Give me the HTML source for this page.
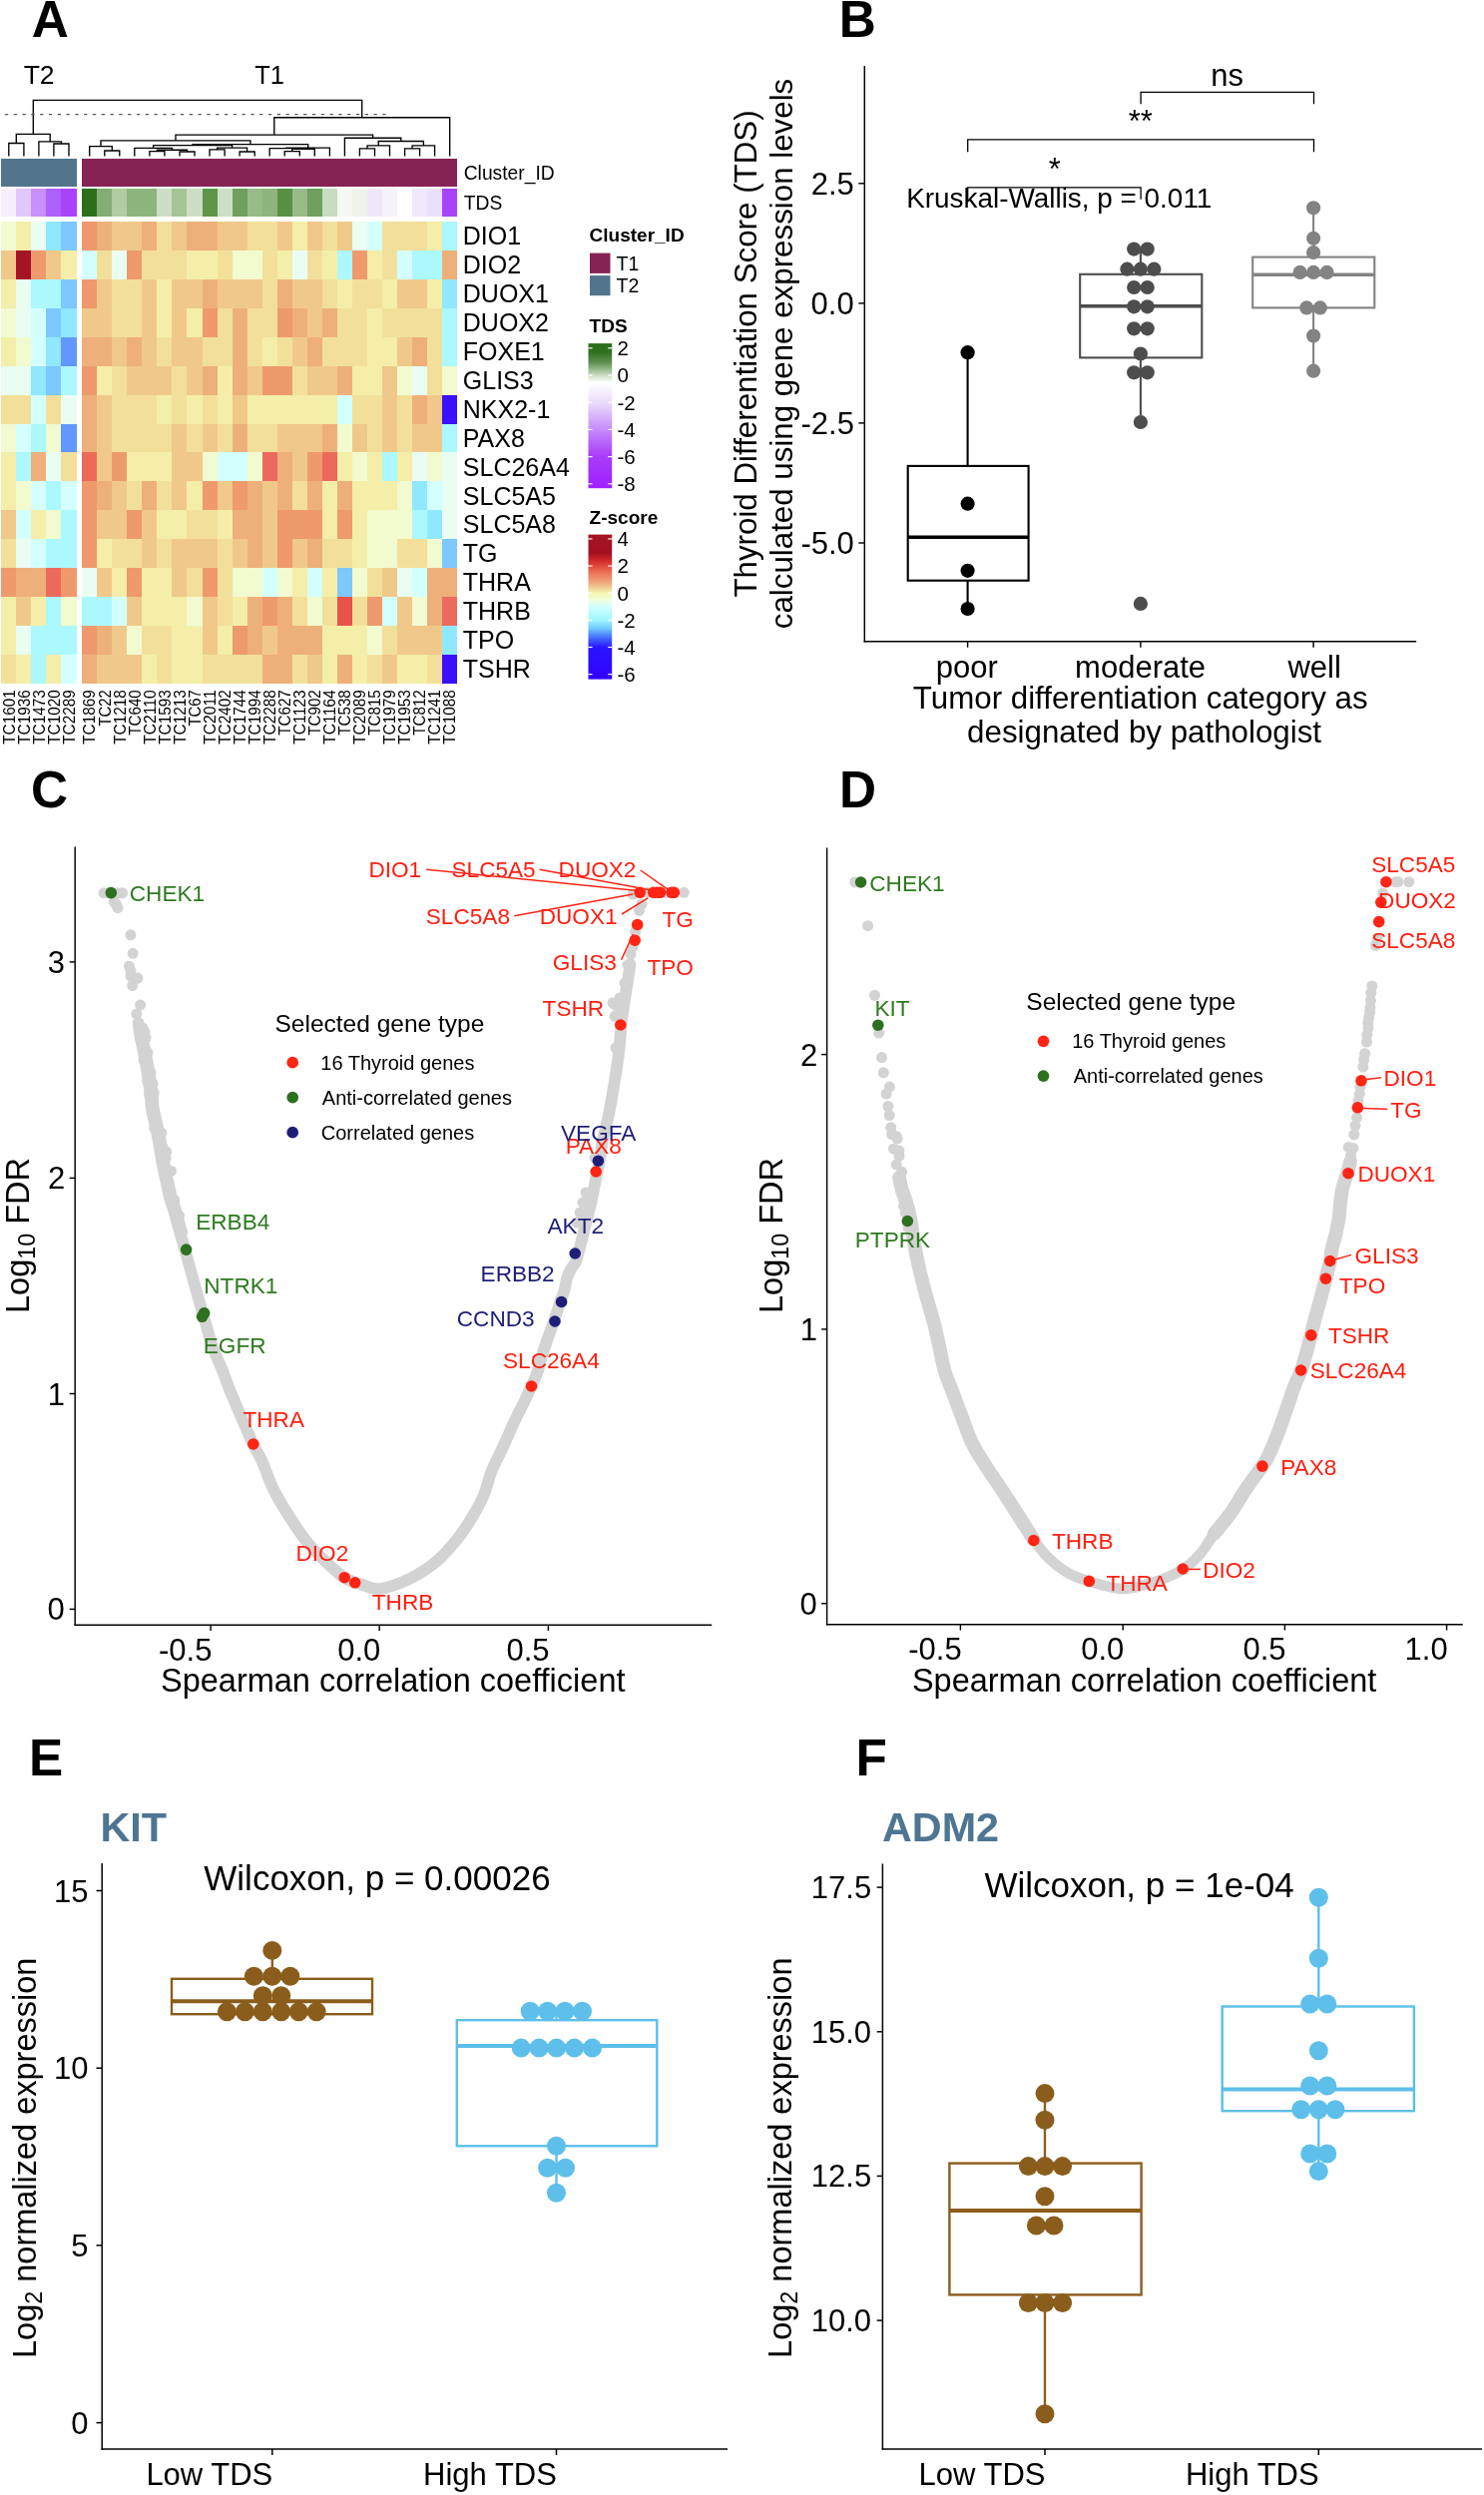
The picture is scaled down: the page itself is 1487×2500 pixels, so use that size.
<!DOCTYPE html>
<html><head><meta charset="utf-8"><style>
html,body{margin:0;padding:0;background:#fff;}
svg{display:block;will-change:transform;}
text{font-family:"Liberation Sans",sans-serif;}
</style></head><body>
<svg width="1487" height="2500" viewBox="0 0 1487 2500">
<rect width="1487" height="2500" fill="#fff"/>
<g id="panelA" shape-rendering="crispEdges">
<rect x="1.30" y="158.90" width="75.20" height="27.80" fill="#52758C"/>
<rect x="82.20" y="158.90" width="376.00" height="27.80" fill="#862254"/>
<rect x="1.30" y="189.00" width="15.34" height="27.60" fill="#F6F0FC"/>
<rect x="16.34" y="189.00" width="15.34" height="27.60" fill="#E0C8FC"/>
<rect x="31.38" y="189.00" width="15.34" height="27.60" fill="#C890FC"/>
<rect x="46.42" y="189.00" width="15.34" height="27.60" fill="#AE60FC"/>
<rect x="61.46" y="189.00" width="15.04" height="27.60" fill="#A843FA"/>
<rect x="82.20" y="189.00" width="15.34" height="27.60" fill="#2D6E1A"/>
<rect x="97.24" y="189.00" width="15.34" height="27.60" fill="#84AD74"/>
<rect x="112.28" y="189.00" width="15.34" height="27.60" fill="#B0CCA0"/>
<rect x="127.32" y="189.00" width="15.34" height="27.60" fill="#8EB47E"/>
<rect x="142.36" y="189.00" width="15.34" height="27.60" fill="#8EB47E"/>
<rect x="157.40" y="189.00" width="15.34" height="27.60" fill="#CCDFC6"/>
<rect x="172.44" y="189.00" width="15.34" height="27.60" fill="#A4C496"/>
<rect x="187.48" y="189.00" width="15.34" height="27.60" fill="#CCDFC6"/>
<rect x="202.52" y="189.00" width="15.34" height="27.60" fill="#5F954B"/>
<rect x="217.56" y="189.00" width="15.34" height="27.60" fill="#CCDFC6"/>
<rect x="232.60" y="189.00" width="15.34" height="27.60" fill="#6FA05D"/>
<rect x="247.64" y="189.00" width="15.34" height="27.60" fill="#98BC88"/>
<rect x="262.68" y="189.00" width="15.34" height="27.60" fill="#8EB47E"/>
<rect x="277.72" y="189.00" width="15.34" height="27.60" fill="#5A9045"/>
<rect x="292.76" y="189.00" width="15.34" height="27.60" fill="#98BC88"/>
<rect x="307.80" y="189.00" width="15.34" height="27.60" fill="#6FA05D"/>
<rect x="322.84" y="189.00" width="15.34" height="27.60" fill="#C8DCC0"/>
<rect x="337.88" y="189.00" width="15.34" height="27.60" fill="#F5F8F2"/>
<rect x="352.92" y="189.00" width="15.34" height="27.60" fill="#EEF2EA"/>
<rect x="367.96" y="189.00" width="15.34" height="27.60" fill="#F0E6FC"/>
<rect x="383.00" y="189.00" width="15.34" height="27.60" fill="#F6F2FC"/>
<rect x="398.04" y="189.00" width="15.34" height="27.60" fill="#FFFFFF"/>
<rect x="413.08" y="189.00" width="15.34" height="27.60" fill="#F0E8FC"/>
<rect x="428.12" y="189.00" width="15.34" height="27.60" fill="#EAE0FC"/>
<rect x="443.16" y="189.00" width="15.04" height="27.60" fill="#A843FA"/>
<rect x="1.30" y="222.30" width="15.34" height="29.19" fill="#F2FAD0"/>
<rect x="16.34" y="222.30" width="15.34" height="29.19" fill="#F4EEA8"/>
<rect x="31.38" y="222.30" width="15.34" height="29.19" fill="#EAFDF2"/>
<rect x="46.42" y="222.30" width="15.34" height="29.19" fill="#90E8FF"/>
<rect x="61.46" y="222.30" width="15.04" height="29.19" fill="#7CC8FF"/>
<rect x="82.20" y="222.30" width="15.34" height="29.19" fill="#EE9A6C"/>
<rect x="97.24" y="222.30" width="15.34" height="29.19" fill="#EEB07A"/>
<rect x="112.28" y="222.30" width="15.34" height="29.19" fill="#F0C98A"/>
<rect x="127.32" y="222.30" width="15.34" height="29.19" fill="#F0C98A"/>
<rect x="142.36" y="222.30" width="15.34" height="29.19" fill="#EEB07A"/>
<rect x="157.40" y="222.30" width="15.34" height="29.19" fill="#F2E09A"/>
<rect x="172.44" y="222.30" width="15.34" height="29.19" fill="#F0C98A"/>
<rect x="187.48" y="222.30" width="15.34" height="29.19" fill="#EEB07A"/>
<rect x="202.52" y="222.30" width="15.34" height="29.19" fill="#EEB07A"/>
<rect x="217.56" y="222.30" width="15.34" height="29.19" fill="#F0C98A"/>
<rect x="232.60" y="222.30" width="15.34" height="29.19" fill="#F0C98A"/>
<rect x="247.64" y="222.30" width="15.34" height="29.19" fill="#F2E09A"/>
<rect x="262.68" y="222.30" width="15.34" height="29.19" fill="#F2E09A"/>
<rect x="277.72" y="222.30" width="15.34" height="29.19" fill="#F0C98A"/>
<rect x="292.76" y="222.30" width="15.34" height="29.19" fill="#F4EEA8"/>
<rect x="307.80" y="222.30" width="15.34" height="29.19" fill="#F0C98A"/>
<rect x="322.84" y="222.30" width="15.34" height="29.19" fill="#F2E09A"/>
<rect x="337.88" y="222.30" width="15.34" height="29.19" fill="#F0C98A"/>
<rect x="352.92" y="222.30" width="15.34" height="29.19" fill="#EAFDF2"/>
<rect x="367.96" y="222.30" width="15.34" height="29.19" fill="#D4FFFF"/>
<rect x="383.00" y="222.30" width="15.34" height="29.19" fill="#F2E09A"/>
<rect x="398.04" y="222.30" width="15.34" height="29.19" fill="#F2E09A"/>
<rect x="413.08" y="222.30" width="15.34" height="29.19" fill="#F2E09A"/>
<rect x="428.12" y="222.30" width="15.34" height="29.19" fill="#F4EEA8"/>
<rect x="443.16" y="222.30" width="15.04" height="29.19" fill="#ACF8FF"/>
<rect x="1.30" y="251.19" width="15.34" height="29.19" fill="#F0C98A"/>
<rect x="16.34" y="251.19" width="15.34" height="29.19" fill="#A51424"/>
<rect x="31.38" y="251.19" width="15.34" height="29.19" fill="#EE9A6C"/>
<rect x="46.42" y="251.19" width="15.34" height="29.19" fill="#F0C98A"/>
<rect x="61.46" y="251.19" width="15.04" height="29.19" fill="#F4EEA8"/>
<rect x="82.20" y="251.19" width="15.34" height="29.19" fill="#D4FFFF"/>
<rect x="97.24" y="251.19" width="15.34" height="29.19" fill="#F2E09A"/>
<rect x="112.28" y="251.19" width="15.34" height="29.19" fill="#EAFDF2"/>
<rect x="127.32" y="251.19" width="15.34" height="29.19" fill="#EE9A6C"/>
<rect x="142.36" y="251.19" width="15.34" height="29.19" fill="#F2E09A"/>
<rect x="157.40" y="251.19" width="15.34" height="29.19" fill="#F2E09A"/>
<rect x="172.44" y="251.19" width="15.34" height="29.19" fill="#F2E09A"/>
<rect x="187.48" y="251.19" width="15.34" height="29.19" fill="#F4EEA8"/>
<rect x="202.52" y="251.19" width="15.34" height="29.19" fill="#F4EEA8"/>
<rect x="217.56" y="251.19" width="15.34" height="29.19" fill="#F2E09A"/>
<rect x="232.60" y="251.19" width="15.34" height="29.19" fill="#F2FAD0"/>
<rect x="247.64" y="251.19" width="15.34" height="29.19" fill="#F2FAD0"/>
<rect x="262.68" y="251.19" width="15.34" height="29.19" fill="#F2E09A"/>
<rect x="277.72" y="251.19" width="15.34" height="29.19" fill="#F4EEA8"/>
<rect x="292.76" y="251.19" width="15.34" height="29.19" fill="#EAFDF2"/>
<rect x="307.80" y="251.19" width="15.34" height="29.19" fill="#F2E09A"/>
<rect x="322.84" y="251.19" width="15.34" height="29.19" fill="#F4EEA8"/>
<rect x="337.88" y="251.19" width="15.34" height="29.19" fill="#ACF8FF"/>
<rect x="352.92" y="251.19" width="15.34" height="29.19" fill="#EE9A6C"/>
<rect x="367.96" y="251.19" width="15.34" height="29.19" fill="#F4EEA8"/>
<rect x="383.00" y="251.19" width="15.34" height="29.19" fill="#F2E09A"/>
<rect x="398.04" y="251.19" width="15.34" height="29.19" fill="#D4FFFF"/>
<rect x="413.08" y="251.19" width="15.34" height="29.19" fill="#ACF8FF"/>
<rect x="428.12" y="251.19" width="15.34" height="29.19" fill="#ACF8FF"/>
<rect x="443.16" y="251.19" width="15.04" height="29.19" fill="#EEB07A"/>
<rect x="1.30" y="280.08" width="15.34" height="29.19" fill="#F4EEA8"/>
<rect x="16.34" y="280.08" width="15.34" height="29.19" fill="#EAFDF2"/>
<rect x="31.38" y="280.08" width="15.34" height="29.19" fill="#ACF8FF"/>
<rect x="46.42" y="280.08" width="15.34" height="29.19" fill="#ACF8FF"/>
<rect x="61.46" y="280.08" width="15.04" height="29.19" fill="#7CC8FF"/>
<rect x="82.20" y="280.08" width="15.34" height="29.19" fill="#EE9A6C"/>
<rect x="97.24" y="280.08" width="15.34" height="29.19" fill="#F0C98A"/>
<rect x="112.28" y="280.08" width="15.34" height="29.19" fill="#F2E09A"/>
<rect x="127.32" y="280.08" width="15.34" height="29.19" fill="#F2E09A"/>
<rect x="142.36" y="280.08" width="15.34" height="29.19" fill="#F0C98A"/>
<rect x="157.40" y="280.08" width="15.34" height="29.19" fill="#F4EEA8"/>
<rect x="172.44" y="280.08" width="15.34" height="29.19" fill="#F0C98A"/>
<rect x="187.48" y="280.08" width="15.34" height="29.19" fill="#F0C98A"/>
<rect x="202.52" y="280.08" width="15.34" height="29.19" fill="#EEB07A"/>
<rect x="217.56" y="280.08" width="15.34" height="29.19" fill="#F0C98A"/>
<rect x="232.60" y="280.08" width="15.34" height="29.19" fill="#F0C98A"/>
<rect x="247.64" y="280.08" width="15.34" height="29.19" fill="#F0C98A"/>
<rect x="262.68" y="280.08" width="15.34" height="29.19" fill="#F2E09A"/>
<rect x="277.72" y="280.08" width="15.34" height="29.19" fill="#EEB07A"/>
<rect x="292.76" y="280.08" width="15.34" height="29.19" fill="#F0C98A"/>
<rect x="307.80" y="280.08" width="15.34" height="29.19" fill="#F0C98A"/>
<rect x="322.84" y="280.08" width="15.34" height="29.19" fill="#F2E09A"/>
<rect x="337.88" y="280.08" width="15.34" height="29.19" fill="#F4EEA8"/>
<rect x="352.92" y="280.08" width="15.34" height="29.19" fill="#F2E09A"/>
<rect x="367.96" y="280.08" width="15.34" height="29.19" fill="#F2E09A"/>
<rect x="383.00" y="280.08" width="15.34" height="29.19" fill="#F4EEA8"/>
<rect x="398.04" y="280.08" width="15.34" height="29.19" fill="#F0C98A"/>
<rect x="413.08" y="280.08" width="15.34" height="29.19" fill="#F0C98A"/>
<rect x="428.12" y="280.08" width="15.34" height="29.19" fill="#F4EEA8"/>
<rect x="443.16" y="280.08" width="15.04" height="29.19" fill="#90E8FF"/>
<rect x="1.30" y="308.97" width="15.34" height="29.19" fill="#F2FAD0"/>
<rect x="16.34" y="308.97" width="15.34" height="29.19" fill="#EAFDF2"/>
<rect x="31.38" y="308.97" width="15.34" height="29.19" fill="#D4FFFF"/>
<rect x="46.42" y="308.97" width="15.34" height="29.19" fill="#7CC8FF"/>
<rect x="61.46" y="308.97" width="15.04" height="29.19" fill="#90E8FF"/>
<rect x="82.20" y="308.97" width="15.34" height="29.19" fill="#F0C98A"/>
<rect x="97.24" y="308.97" width="15.34" height="29.19" fill="#F0C98A"/>
<rect x="112.28" y="308.97" width="15.34" height="29.19" fill="#F2E09A"/>
<rect x="127.32" y="308.97" width="15.34" height="29.19" fill="#F2E09A"/>
<rect x="142.36" y="308.97" width="15.34" height="29.19" fill="#F0C98A"/>
<rect x="157.40" y="308.97" width="15.34" height="29.19" fill="#F4EEA8"/>
<rect x="172.44" y="308.97" width="15.34" height="29.19" fill="#F0C98A"/>
<rect x="187.48" y="308.97" width="15.34" height="29.19" fill="#F4EEA8"/>
<rect x="202.52" y="308.97" width="15.34" height="29.19" fill="#EE9A6C"/>
<rect x="217.56" y="308.97" width="15.34" height="29.19" fill="#F2E09A"/>
<rect x="232.60" y="308.97" width="15.34" height="29.19" fill="#EEB07A"/>
<rect x="247.64" y="308.97" width="15.34" height="29.19" fill="#F2E09A"/>
<rect x="262.68" y="308.97" width="15.34" height="29.19" fill="#F2E09A"/>
<rect x="277.72" y="308.97" width="15.34" height="29.19" fill="#EE9A6C"/>
<rect x="292.76" y="308.97" width="15.34" height="29.19" fill="#EEB07A"/>
<rect x="307.80" y="308.97" width="15.34" height="29.19" fill="#F0C98A"/>
<rect x="322.84" y="308.97" width="15.34" height="29.19" fill="#EEB07A"/>
<rect x="337.88" y="308.97" width="15.34" height="29.19" fill="#F2E09A"/>
<rect x="352.92" y="308.97" width="15.34" height="29.19" fill="#F2E09A"/>
<rect x="367.96" y="308.97" width="15.34" height="29.19" fill="#F4EEA8"/>
<rect x="383.00" y="308.97" width="15.34" height="29.19" fill="#F2E09A"/>
<rect x="398.04" y="308.97" width="15.34" height="29.19" fill="#F2E09A"/>
<rect x="413.08" y="308.97" width="15.34" height="29.19" fill="#F2E09A"/>
<rect x="428.12" y="308.97" width="15.34" height="29.19" fill="#F2E09A"/>
<rect x="443.16" y="308.97" width="15.04" height="29.19" fill="#ACF8FF"/>
<rect x="1.30" y="337.86" width="15.34" height="29.19" fill="#F4EEA8"/>
<rect x="16.34" y="337.86" width="15.34" height="29.19" fill="#F2FAD0"/>
<rect x="31.38" y="337.86" width="15.34" height="29.19" fill="#D4FFFF"/>
<rect x="46.42" y="337.86" width="15.34" height="29.19" fill="#90E8FF"/>
<rect x="61.46" y="337.86" width="15.04" height="29.19" fill="#6098FF"/>
<rect x="82.20" y="337.86" width="15.34" height="29.19" fill="#EEB07A"/>
<rect x="97.24" y="337.86" width="15.34" height="29.19" fill="#EEB07A"/>
<rect x="112.28" y="337.86" width="15.34" height="29.19" fill="#F0C98A"/>
<rect x="127.32" y="337.86" width="15.34" height="29.19" fill="#EEB07A"/>
<rect x="142.36" y="337.86" width="15.34" height="29.19" fill="#F0C98A"/>
<rect x="157.40" y="337.86" width="15.34" height="29.19" fill="#F2E09A"/>
<rect x="172.44" y="337.86" width="15.34" height="29.19" fill="#F0C98A"/>
<rect x="187.48" y="337.86" width="15.34" height="29.19" fill="#F0C98A"/>
<rect x="202.52" y="337.86" width="15.34" height="29.19" fill="#F2E09A"/>
<rect x="217.56" y="337.86" width="15.34" height="29.19" fill="#F2E09A"/>
<rect x="232.60" y="337.86" width="15.34" height="29.19" fill="#EEB07A"/>
<rect x="247.64" y="337.86" width="15.34" height="29.19" fill="#F2E09A"/>
<rect x="262.68" y="337.86" width="15.34" height="29.19" fill="#F4EEA8"/>
<rect x="277.72" y="337.86" width="15.34" height="29.19" fill="#F2E09A"/>
<rect x="292.76" y="337.86" width="15.34" height="29.19" fill="#F0C98A"/>
<rect x="307.80" y="337.86" width="15.34" height="29.19" fill="#EEB07A"/>
<rect x="322.84" y="337.86" width="15.34" height="29.19" fill="#F2E09A"/>
<rect x="337.88" y="337.86" width="15.34" height="29.19" fill="#F2E09A"/>
<rect x="352.92" y="337.86" width="15.34" height="29.19" fill="#F2E09A"/>
<rect x="367.96" y="337.86" width="15.34" height="29.19" fill="#F4EEA8"/>
<rect x="383.00" y="337.86" width="15.34" height="29.19" fill="#F4EEA8"/>
<rect x="398.04" y="337.86" width="15.34" height="29.19" fill="#F0C98A"/>
<rect x="413.08" y="337.86" width="15.34" height="29.19" fill="#EEB07A"/>
<rect x="428.12" y="337.86" width="15.34" height="29.19" fill="#F2E09A"/>
<rect x="443.16" y="337.86" width="15.04" height="29.19" fill="#ACF8FF"/>
<rect x="1.30" y="366.75" width="15.34" height="29.19" fill="#EAFDF2"/>
<rect x="16.34" y="366.75" width="15.34" height="29.19" fill="#EAFDF2"/>
<rect x="31.38" y="366.75" width="15.34" height="29.19" fill="#90E8FF"/>
<rect x="46.42" y="366.75" width="15.34" height="29.19" fill="#7CC8FF"/>
<rect x="61.46" y="366.75" width="15.04" height="29.19" fill="#ACF8FF"/>
<rect x="82.20" y="366.75" width="15.34" height="29.19" fill="#EE9A6C"/>
<rect x="97.24" y="366.75" width="15.34" height="29.19" fill="#F4EEA8"/>
<rect x="112.28" y="366.75" width="15.34" height="29.19" fill="#F2E09A"/>
<rect x="127.32" y="366.75" width="15.34" height="29.19" fill="#F0C98A"/>
<rect x="142.36" y="366.75" width="15.34" height="29.19" fill="#F0C98A"/>
<rect x="157.40" y="366.75" width="15.34" height="29.19" fill="#F0C98A"/>
<rect x="172.44" y="366.75" width="15.34" height="29.19" fill="#F2E09A"/>
<rect x="187.48" y="366.75" width="15.34" height="29.19" fill="#F0C98A"/>
<rect x="202.52" y="366.75" width="15.34" height="29.19" fill="#EEB07A"/>
<rect x="217.56" y="366.75" width="15.34" height="29.19" fill="#F4EEA8"/>
<rect x="232.60" y="366.75" width="15.34" height="29.19" fill="#EEB07A"/>
<rect x="247.64" y="366.75" width="15.34" height="29.19" fill="#F0C98A"/>
<rect x="262.68" y="366.75" width="15.34" height="29.19" fill="#EE9A6C"/>
<rect x="277.72" y="366.75" width="15.34" height="29.19" fill="#EE9A6C"/>
<rect x="292.76" y="366.75" width="15.34" height="29.19" fill="#F2E09A"/>
<rect x="307.80" y="366.75" width="15.34" height="29.19" fill="#F0C98A"/>
<rect x="322.84" y="366.75" width="15.34" height="29.19" fill="#F0C98A"/>
<rect x="337.88" y="366.75" width="15.34" height="29.19" fill="#EEB07A"/>
<rect x="352.92" y="366.75" width="15.34" height="29.19" fill="#F4EEA8"/>
<rect x="367.96" y="366.75" width="15.34" height="29.19" fill="#F4EEA8"/>
<rect x="383.00" y="366.75" width="15.34" height="29.19" fill="#F0C98A"/>
<rect x="398.04" y="366.75" width="15.34" height="29.19" fill="#F2FAD0"/>
<rect x="413.08" y="366.75" width="15.34" height="29.19" fill="#EAFDF2"/>
<rect x="428.12" y="366.75" width="15.34" height="29.19" fill="#F2E09A"/>
<rect x="443.16" y="366.75" width="15.04" height="29.19" fill="#F2FAD0"/>
<rect x="1.30" y="395.64" width="15.34" height="29.19" fill="#F2E09A"/>
<rect x="16.34" y="395.64" width="15.34" height="29.19" fill="#F2E09A"/>
<rect x="31.38" y="395.64" width="15.34" height="29.19" fill="#D4FFFF"/>
<rect x="46.42" y="395.64" width="15.34" height="29.19" fill="#F2E09A"/>
<rect x="61.46" y="395.64" width="15.04" height="29.19" fill="#EAFDF2"/>
<rect x="82.20" y="395.64" width="15.34" height="29.19" fill="#EEB07A"/>
<rect x="97.24" y="395.64" width="15.34" height="29.19" fill="#F0C98A"/>
<rect x="112.28" y="395.64" width="15.34" height="29.19" fill="#F2E09A"/>
<rect x="127.32" y="395.64" width="15.34" height="29.19" fill="#F2E09A"/>
<rect x="142.36" y="395.64" width="15.34" height="29.19" fill="#F2E09A"/>
<rect x="157.40" y="395.64" width="15.34" height="29.19" fill="#F4EEA8"/>
<rect x="172.44" y="395.64" width="15.34" height="29.19" fill="#F2E09A"/>
<rect x="187.48" y="395.64" width="15.34" height="29.19" fill="#F4EEA8"/>
<rect x="202.52" y="395.64" width="15.34" height="29.19" fill="#F2E09A"/>
<rect x="217.56" y="395.64" width="15.34" height="29.19" fill="#F4EEA8"/>
<rect x="232.60" y="395.64" width="15.34" height="29.19" fill="#F0C98A"/>
<rect x="247.64" y="395.64" width="15.34" height="29.19" fill="#F4EEA8"/>
<rect x="262.68" y="395.64" width="15.34" height="29.19" fill="#F4EEA8"/>
<rect x="277.72" y="395.64" width="15.34" height="29.19" fill="#F4EEA8"/>
<rect x="292.76" y="395.64" width="15.34" height="29.19" fill="#F4EEA8"/>
<rect x="307.80" y="395.64" width="15.34" height="29.19" fill="#F4EEA8"/>
<rect x="322.84" y="395.64" width="15.34" height="29.19" fill="#F4EEA8"/>
<rect x="337.88" y="395.64" width="15.34" height="29.19" fill="#D4FFFF"/>
<rect x="352.92" y="395.64" width="15.34" height="29.19" fill="#F2E09A"/>
<rect x="367.96" y="395.64" width="15.34" height="29.19" fill="#F2E09A"/>
<rect x="383.00" y="395.64" width="15.34" height="29.19" fill="#F0C98A"/>
<rect x="398.04" y="395.64" width="15.34" height="29.19" fill="#F2E09A"/>
<rect x="413.08" y="395.64" width="15.34" height="29.19" fill="#EEB07A"/>
<rect x="428.12" y="395.64" width="15.34" height="29.19" fill="#F0C98A"/>
<rect x="443.16" y="395.64" width="15.04" height="29.19" fill="#3A10FF"/>
<rect x="1.30" y="424.53" width="15.34" height="29.19" fill="#F2FAD0"/>
<rect x="16.34" y="424.53" width="15.34" height="29.19" fill="#D4FFFF"/>
<rect x="31.38" y="424.53" width="15.34" height="29.19" fill="#ACF8FF"/>
<rect x="46.42" y="424.53" width="15.34" height="29.19" fill="#F2FAD0"/>
<rect x="61.46" y="424.53" width="15.04" height="29.19" fill="#6098FF"/>
<rect x="82.20" y="424.53" width="15.34" height="29.19" fill="#EEB07A"/>
<rect x="97.24" y="424.53" width="15.34" height="29.19" fill="#F0C98A"/>
<rect x="112.28" y="424.53" width="15.34" height="29.19" fill="#F2E09A"/>
<rect x="127.32" y="424.53" width="15.34" height="29.19" fill="#F2E09A"/>
<rect x="142.36" y="424.53" width="15.34" height="29.19" fill="#F2E09A"/>
<rect x="157.40" y="424.53" width="15.34" height="29.19" fill="#F2E09A"/>
<rect x="172.44" y="424.53" width="15.34" height="29.19" fill="#F0C98A"/>
<rect x="187.48" y="424.53" width="15.34" height="29.19" fill="#F2E09A"/>
<rect x="202.52" y="424.53" width="15.34" height="29.19" fill="#F0C98A"/>
<rect x="217.56" y="424.53" width="15.34" height="29.19" fill="#F2E09A"/>
<rect x="232.60" y="424.53" width="15.34" height="29.19" fill="#EEB07A"/>
<rect x="247.64" y="424.53" width="15.34" height="29.19" fill="#F2E09A"/>
<rect x="262.68" y="424.53" width="15.34" height="29.19" fill="#F2E09A"/>
<rect x="277.72" y="424.53" width="15.34" height="29.19" fill="#F0C98A"/>
<rect x="292.76" y="424.53" width="15.34" height="29.19" fill="#F0C98A"/>
<rect x="307.80" y="424.53" width="15.34" height="29.19" fill="#F0C98A"/>
<rect x="322.84" y="424.53" width="15.34" height="29.19" fill="#EEB07A"/>
<rect x="337.88" y="424.53" width="15.34" height="29.19" fill="#F2FAD0"/>
<rect x="352.92" y="424.53" width="15.34" height="29.19" fill="#F0C98A"/>
<rect x="367.96" y="424.53" width="15.34" height="29.19" fill="#F2E09A"/>
<rect x="383.00" y="424.53" width="15.34" height="29.19" fill="#F0C98A"/>
<rect x="398.04" y="424.53" width="15.34" height="29.19" fill="#F2E09A"/>
<rect x="413.08" y="424.53" width="15.34" height="29.19" fill="#F0C98A"/>
<rect x="428.12" y="424.53" width="15.34" height="29.19" fill="#F0C98A"/>
<rect x="443.16" y="424.53" width="15.04" height="29.19" fill="#ACF8FF"/>
<rect x="1.30" y="453.42" width="15.34" height="29.19" fill="#F4EEA8"/>
<rect x="16.34" y="453.42" width="15.34" height="29.19" fill="#ACF8FF"/>
<rect x="31.38" y="453.42" width="15.34" height="29.19" fill="#EEB07A"/>
<rect x="46.42" y="453.42" width="15.34" height="29.19" fill="#EAFDF2"/>
<rect x="61.46" y="453.42" width="15.04" height="29.19" fill="#F2E09A"/>
<rect x="82.20" y="453.42" width="15.34" height="29.19" fill="#EC6A5C"/>
<rect x="97.24" y="453.42" width="15.34" height="29.19" fill="#F0C98A"/>
<rect x="112.28" y="453.42" width="15.34" height="29.19" fill="#EE9A6C"/>
<rect x="127.32" y="453.42" width="15.34" height="29.19" fill="#F4EEA8"/>
<rect x="142.36" y="453.42" width="15.34" height="29.19" fill="#F4EEA8"/>
<rect x="157.40" y="453.42" width="15.34" height="29.19" fill="#F4EEA8"/>
<rect x="172.44" y="453.42" width="15.34" height="29.19" fill="#F0C98A"/>
<rect x="187.48" y="453.42" width="15.34" height="29.19" fill="#F0C98A"/>
<rect x="202.52" y="453.42" width="15.34" height="29.19" fill="#F2FAD0"/>
<rect x="217.56" y="453.42" width="15.34" height="29.19" fill="#D4FFFF"/>
<rect x="232.60" y="453.42" width="15.34" height="29.19" fill="#D4FFFF"/>
<rect x="247.64" y="453.42" width="15.34" height="29.19" fill="#F2FAD0"/>
<rect x="262.68" y="453.42" width="15.34" height="29.19" fill="#EC6A5C"/>
<rect x="277.72" y="453.42" width="15.34" height="29.19" fill="#EEB07A"/>
<rect x="292.76" y="453.42" width="15.34" height="29.19" fill="#F0C98A"/>
<rect x="307.80" y="453.42" width="15.34" height="29.19" fill="#EE9A6C"/>
<rect x="322.84" y="453.42" width="15.34" height="29.19" fill="#EC6A5C"/>
<rect x="337.88" y="453.42" width="15.34" height="29.19" fill="#F4EEA8"/>
<rect x="352.92" y="453.42" width="15.34" height="29.19" fill="#F2FAD0"/>
<rect x="367.96" y="453.42" width="15.34" height="29.19" fill="#F4EEA8"/>
<rect x="383.00" y="453.42" width="15.34" height="29.19" fill="#ACF8FF"/>
<rect x="398.04" y="453.42" width="15.34" height="29.19" fill="#F4EEA8"/>
<rect x="413.08" y="453.42" width="15.34" height="29.19" fill="#EAFDF2"/>
<rect x="428.12" y="453.42" width="15.34" height="29.19" fill="#F2FAD0"/>
<rect x="443.16" y="453.42" width="15.04" height="29.19" fill="#EAFDF2"/>
<rect x="1.30" y="482.31" width="15.34" height="29.19" fill="#F4EEA8"/>
<rect x="16.34" y="482.31" width="15.34" height="29.19" fill="#F2FAD0"/>
<rect x="31.38" y="482.31" width="15.34" height="29.19" fill="#D4FFFF"/>
<rect x="46.42" y="482.31" width="15.34" height="29.19" fill="#ACF8FF"/>
<rect x="61.46" y="482.31" width="15.04" height="29.19" fill="#D4FFFF"/>
<rect x="82.20" y="482.31" width="15.34" height="29.19" fill="#EE9A6C"/>
<rect x="97.24" y="482.31" width="15.34" height="29.19" fill="#EEB07A"/>
<rect x="112.28" y="482.31" width="15.34" height="29.19" fill="#F0C98A"/>
<rect x="127.32" y="482.31" width="15.34" height="29.19" fill="#F2E09A"/>
<rect x="142.36" y="482.31" width="15.34" height="29.19" fill="#EEB07A"/>
<rect x="157.40" y="482.31" width="15.34" height="29.19" fill="#F2E09A"/>
<rect x="172.44" y="482.31" width="15.34" height="29.19" fill="#F0C98A"/>
<rect x="187.48" y="482.31" width="15.34" height="29.19" fill="#F4EEA8"/>
<rect x="202.52" y="482.31" width="15.34" height="29.19" fill="#EE9A6C"/>
<rect x="217.56" y="482.31" width="15.34" height="29.19" fill="#F0C98A"/>
<rect x="232.60" y="482.31" width="15.34" height="29.19" fill="#EE9A6C"/>
<rect x="247.64" y="482.31" width="15.34" height="29.19" fill="#EEB07A"/>
<rect x="262.68" y="482.31" width="15.34" height="29.19" fill="#F0C98A"/>
<rect x="277.72" y="482.31" width="15.34" height="29.19" fill="#EEB07A"/>
<rect x="292.76" y="482.31" width="15.34" height="29.19" fill="#F2E09A"/>
<rect x="307.80" y="482.31" width="15.34" height="29.19" fill="#EEB07A"/>
<rect x="322.84" y="482.31" width="15.34" height="29.19" fill="#F4EEA8"/>
<rect x="337.88" y="482.31" width="15.34" height="29.19" fill="#EEB07A"/>
<rect x="352.92" y="482.31" width="15.34" height="29.19" fill="#F4EEA8"/>
<rect x="367.96" y="482.31" width="15.34" height="29.19" fill="#F4EEA8"/>
<rect x="383.00" y="482.31" width="15.34" height="29.19" fill="#F4EEA8"/>
<rect x="398.04" y="482.31" width="15.34" height="29.19" fill="#F2FAD0"/>
<rect x="413.08" y="482.31" width="15.34" height="29.19" fill="#90E8FF"/>
<rect x="428.12" y="482.31" width="15.34" height="29.19" fill="#D4FFFF"/>
<rect x="443.16" y="482.31" width="15.04" height="29.19" fill="#EAFDF2"/>
<rect x="1.30" y="511.20" width="15.34" height="29.19" fill="#F0C98A"/>
<rect x="16.34" y="511.20" width="15.34" height="29.19" fill="#D4FFFF"/>
<rect x="31.38" y="511.20" width="15.34" height="29.19" fill="#F4EEA8"/>
<rect x="46.42" y="511.20" width="15.34" height="29.19" fill="#F2FAD0"/>
<rect x="61.46" y="511.20" width="15.04" height="29.19" fill="#ACF8FF"/>
<rect x="82.20" y="511.20" width="15.34" height="29.19" fill="#EE9A6C"/>
<rect x="97.24" y="511.20" width="15.34" height="29.19" fill="#F0C98A"/>
<rect x="112.28" y="511.20" width="15.34" height="29.19" fill="#F0C98A"/>
<rect x="127.32" y="511.20" width="15.34" height="29.19" fill="#EE9A6C"/>
<rect x="142.36" y="511.20" width="15.34" height="29.19" fill="#F0C98A"/>
<rect x="157.40" y="511.20" width="15.34" height="29.19" fill="#F4EEA8"/>
<rect x="172.44" y="511.20" width="15.34" height="29.19" fill="#F4EEA8"/>
<rect x="187.48" y="511.20" width="15.34" height="29.19" fill="#F2E09A"/>
<rect x="202.52" y="511.20" width="15.34" height="29.19" fill="#F2E09A"/>
<rect x="217.56" y="511.20" width="15.34" height="29.19" fill="#F4EEA8"/>
<rect x="232.60" y="511.20" width="15.34" height="29.19" fill="#EEB07A"/>
<rect x="247.64" y="511.20" width="15.34" height="29.19" fill="#EEB07A"/>
<rect x="262.68" y="511.20" width="15.34" height="29.19" fill="#F0C98A"/>
<rect x="277.72" y="511.20" width="15.34" height="29.19" fill="#EE9A6C"/>
<rect x="292.76" y="511.20" width="15.34" height="29.19" fill="#EE9A6C"/>
<rect x="307.80" y="511.20" width="15.34" height="29.19" fill="#EE9A6C"/>
<rect x="322.84" y="511.20" width="15.34" height="29.19" fill="#F4EEA8"/>
<rect x="337.88" y="511.20" width="15.34" height="29.19" fill="#EE9A6C"/>
<rect x="352.92" y="511.20" width="15.34" height="29.19" fill="#F4EEA8"/>
<rect x="367.96" y="511.20" width="15.34" height="29.19" fill="#F2FAD0"/>
<rect x="383.00" y="511.20" width="15.34" height="29.19" fill="#F2FAD0"/>
<rect x="398.04" y="511.20" width="15.34" height="29.19" fill="#F2FAD0"/>
<rect x="413.08" y="511.20" width="15.34" height="29.19" fill="#ACF8FF"/>
<rect x="428.12" y="511.20" width="15.34" height="29.19" fill="#90E8FF"/>
<rect x="443.16" y="511.20" width="15.04" height="29.19" fill="#EAFDF2"/>
<rect x="1.30" y="540.09" width="15.34" height="29.19" fill="#F2E09A"/>
<rect x="16.34" y="540.09" width="15.34" height="29.19" fill="#EAFDF2"/>
<rect x="31.38" y="540.09" width="15.34" height="29.19" fill="#D4FFFF"/>
<rect x="46.42" y="540.09" width="15.34" height="29.19" fill="#ACF8FF"/>
<rect x="61.46" y="540.09" width="15.04" height="29.19" fill="#ACF8FF"/>
<rect x="82.20" y="540.09" width="15.34" height="29.19" fill="#EE9A6C"/>
<rect x="97.24" y="540.09" width="15.34" height="29.19" fill="#F4EEA8"/>
<rect x="112.28" y="540.09" width="15.34" height="29.19" fill="#F2E09A"/>
<rect x="127.32" y="540.09" width="15.34" height="29.19" fill="#F2E09A"/>
<rect x="142.36" y="540.09" width="15.34" height="29.19" fill="#F0C98A"/>
<rect x="157.40" y="540.09" width="15.34" height="29.19" fill="#F2E09A"/>
<rect x="172.44" y="540.09" width="15.34" height="29.19" fill="#F0C98A"/>
<rect x="187.48" y="540.09" width="15.34" height="29.19" fill="#F0C98A"/>
<rect x="202.52" y="540.09" width="15.34" height="29.19" fill="#F0C98A"/>
<rect x="217.56" y="540.09" width="15.34" height="29.19" fill="#F2E09A"/>
<rect x="232.60" y="540.09" width="15.34" height="29.19" fill="#F0C98A"/>
<rect x="247.64" y="540.09" width="15.34" height="29.19" fill="#EEB07A"/>
<rect x="262.68" y="540.09" width="15.34" height="29.19" fill="#F0C98A"/>
<rect x="277.72" y="540.09" width="15.34" height="29.19" fill="#EE9A6C"/>
<rect x="292.76" y="540.09" width="15.34" height="29.19" fill="#F0C98A"/>
<rect x="307.80" y="540.09" width="15.34" height="29.19" fill="#EEB07A"/>
<rect x="322.84" y="540.09" width="15.34" height="29.19" fill="#F2E09A"/>
<rect x="337.88" y="540.09" width="15.34" height="29.19" fill="#F2E09A"/>
<rect x="352.92" y="540.09" width="15.34" height="29.19" fill="#F4EEA8"/>
<rect x="367.96" y="540.09" width="15.34" height="29.19" fill="#F2FAD0"/>
<rect x="383.00" y="540.09" width="15.34" height="29.19" fill="#F2FAD0"/>
<rect x="398.04" y="540.09" width="15.34" height="29.19" fill="#F2E09A"/>
<rect x="413.08" y="540.09" width="15.34" height="29.19" fill="#F2E09A"/>
<rect x="428.12" y="540.09" width="15.34" height="29.19" fill="#F2FAD0"/>
<rect x="443.16" y="540.09" width="15.04" height="29.19" fill="#7CC8FF"/>
<rect x="1.30" y="568.98" width="15.34" height="29.19" fill="#EE9A6C"/>
<rect x="16.34" y="568.98" width="15.34" height="29.19" fill="#EEB07A"/>
<rect x="31.38" y="568.98" width="15.34" height="29.19" fill="#EEB07A"/>
<rect x="46.42" y="568.98" width="15.34" height="29.19" fill="#EC6A5C"/>
<rect x="61.46" y="568.98" width="15.04" height="29.19" fill="#EE9A6C"/>
<rect x="82.20" y="568.98" width="15.34" height="29.19" fill="#EAFDF2"/>
<rect x="97.24" y="568.98" width="15.34" height="29.19" fill="#F0C98A"/>
<rect x="112.28" y="568.98" width="15.34" height="29.19" fill="#F4EEA8"/>
<rect x="127.32" y="568.98" width="15.34" height="29.19" fill="#EE9A6C"/>
<rect x="142.36" y="568.98" width="15.34" height="29.19" fill="#F4EEA8"/>
<rect x="157.40" y="568.98" width="15.34" height="29.19" fill="#F4EEA8"/>
<rect x="172.44" y="568.98" width="15.34" height="29.19" fill="#F0C98A"/>
<rect x="187.48" y="568.98" width="15.34" height="29.19" fill="#F2E09A"/>
<rect x="202.52" y="568.98" width="15.34" height="29.19" fill="#EE9A6C"/>
<rect x="217.56" y="568.98" width="15.34" height="29.19" fill="#F2E09A"/>
<rect x="232.60" y="568.98" width="15.34" height="29.19" fill="#F2FAD0"/>
<rect x="247.64" y="568.98" width="15.34" height="29.19" fill="#F2FAD0"/>
<rect x="262.68" y="568.98" width="15.34" height="29.19" fill="#D4FFFF"/>
<rect x="277.72" y="568.98" width="15.34" height="29.19" fill="#F2FAD0"/>
<rect x="292.76" y="568.98" width="15.34" height="29.19" fill="#F4EEA8"/>
<rect x="307.80" y="568.98" width="15.34" height="29.19" fill="#D4FFFF"/>
<rect x="322.84" y="568.98" width="15.34" height="29.19" fill="#F4EEA8"/>
<rect x="337.88" y="568.98" width="15.34" height="29.19" fill="#7CC8FF"/>
<rect x="352.92" y="568.98" width="15.34" height="29.19" fill="#F2FAD0"/>
<rect x="367.96" y="568.98" width="15.34" height="29.19" fill="#F2E09A"/>
<rect x="383.00" y="568.98" width="15.34" height="29.19" fill="#F0C98A"/>
<rect x="398.04" y="568.98" width="15.34" height="29.19" fill="#EAFDF2"/>
<rect x="413.08" y="568.98" width="15.34" height="29.19" fill="#D4FFFF"/>
<rect x="428.12" y="568.98" width="15.34" height="29.19" fill="#EEB07A"/>
<rect x="443.16" y="568.98" width="15.04" height="29.19" fill="#EEB07A"/>
<rect x="1.30" y="597.87" width="15.34" height="29.19" fill="#F4EEA8"/>
<rect x="16.34" y="597.87" width="15.34" height="29.19" fill="#F0C98A"/>
<rect x="31.38" y="597.87" width="15.34" height="29.19" fill="#F4EEA8"/>
<rect x="46.42" y="597.87" width="15.34" height="29.19" fill="#ACF8FF"/>
<rect x="61.46" y="597.87" width="15.04" height="29.19" fill="#F2FAD0"/>
<rect x="82.20" y="597.87" width="15.34" height="29.19" fill="#ACF8FF"/>
<rect x="97.24" y="597.87" width="15.34" height="29.19" fill="#ACF8FF"/>
<rect x="112.28" y="597.87" width="15.34" height="29.19" fill="#D4FFFF"/>
<rect x="127.32" y="597.87" width="15.34" height="29.19" fill="#F0C98A"/>
<rect x="142.36" y="597.87" width="15.34" height="29.19" fill="#F4EEA8"/>
<rect x="157.40" y="597.87" width="15.34" height="29.19" fill="#F4EEA8"/>
<rect x="172.44" y="597.87" width="15.34" height="29.19" fill="#F4EEA8"/>
<rect x="187.48" y="597.87" width="15.34" height="29.19" fill="#F2FAD0"/>
<rect x="202.52" y="597.87" width="15.34" height="29.19" fill="#F0C98A"/>
<rect x="217.56" y="597.87" width="15.34" height="29.19" fill="#F2E09A"/>
<rect x="232.60" y="597.87" width="15.34" height="29.19" fill="#F4EEA8"/>
<rect x="247.64" y="597.87" width="15.34" height="29.19" fill="#EEB07A"/>
<rect x="262.68" y="597.87" width="15.34" height="29.19" fill="#EE9A6C"/>
<rect x="277.72" y="597.87" width="15.34" height="29.19" fill="#EEB07A"/>
<rect x="292.76" y="597.87" width="15.34" height="29.19" fill="#F2E09A"/>
<rect x="307.80" y="597.87" width="15.34" height="29.19" fill="#F2FAD0"/>
<rect x="322.84" y="597.87" width="15.34" height="29.19" fill="#F2E09A"/>
<rect x="337.88" y="597.87" width="15.34" height="29.19" fill="#E5534B"/>
<rect x="352.92" y="597.87" width="15.34" height="29.19" fill="#F2E09A"/>
<rect x="367.96" y="597.87" width="15.34" height="29.19" fill="#EE9A6C"/>
<rect x="383.00" y="597.87" width="15.34" height="29.19" fill="#D4FFFF"/>
<rect x="398.04" y="597.87" width="15.34" height="29.19" fill="#F0C98A"/>
<rect x="413.08" y="597.87" width="15.34" height="29.19" fill="#F2FAD0"/>
<rect x="428.12" y="597.87" width="15.34" height="29.19" fill="#EEB07A"/>
<rect x="443.16" y="597.87" width="15.04" height="29.19" fill="#EC6A5C"/>
<rect x="1.30" y="626.76" width="15.34" height="29.19" fill="#F4EEA8"/>
<rect x="16.34" y="626.76" width="15.34" height="29.19" fill="#EAFDF2"/>
<rect x="31.38" y="626.76" width="15.34" height="29.19" fill="#ACF8FF"/>
<rect x="46.42" y="626.76" width="15.34" height="29.19" fill="#ACF8FF"/>
<rect x="61.46" y="626.76" width="15.04" height="29.19" fill="#ACF8FF"/>
<rect x="82.20" y="626.76" width="15.34" height="29.19" fill="#EE9A6C"/>
<rect x="97.24" y="626.76" width="15.34" height="29.19" fill="#EEB07A"/>
<rect x="112.28" y="626.76" width="15.34" height="29.19" fill="#F0C98A"/>
<rect x="127.32" y="626.76" width="15.34" height="29.19" fill="#F2FAD0"/>
<rect x="142.36" y="626.76" width="15.34" height="29.19" fill="#F2E09A"/>
<rect x="157.40" y="626.76" width="15.34" height="29.19" fill="#F2E09A"/>
<rect x="172.44" y="626.76" width="15.34" height="29.19" fill="#F4EEA8"/>
<rect x="187.48" y="626.76" width="15.34" height="29.19" fill="#F4EEA8"/>
<rect x="202.52" y="626.76" width="15.34" height="29.19" fill="#F0C98A"/>
<rect x="217.56" y="626.76" width="15.34" height="29.19" fill="#F4EEA8"/>
<rect x="232.60" y="626.76" width="15.34" height="29.19" fill="#EE9A6C"/>
<rect x="247.64" y="626.76" width="15.34" height="29.19" fill="#EEB07A"/>
<rect x="262.68" y="626.76" width="15.34" height="29.19" fill="#F0C98A"/>
<rect x="277.72" y="626.76" width="15.34" height="29.19" fill="#EEB07A"/>
<rect x="292.76" y="626.76" width="15.34" height="29.19" fill="#EEB07A"/>
<rect x="307.80" y="626.76" width="15.34" height="29.19" fill="#EEB07A"/>
<rect x="322.84" y="626.76" width="15.34" height="29.19" fill="#F4EEA8"/>
<rect x="337.88" y="626.76" width="15.34" height="29.19" fill="#F4EEA8"/>
<rect x="352.92" y="626.76" width="15.34" height="29.19" fill="#F4EEA8"/>
<rect x="367.96" y="626.76" width="15.34" height="29.19" fill="#F2FAD0"/>
<rect x="383.00" y="626.76" width="15.34" height="29.19" fill="#F2E09A"/>
<rect x="398.04" y="626.76" width="15.34" height="29.19" fill="#F0C98A"/>
<rect x="413.08" y="626.76" width="15.34" height="29.19" fill="#F0C98A"/>
<rect x="428.12" y="626.76" width="15.34" height="29.19" fill="#F0C98A"/>
<rect x="443.16" y="626.76" width="15.04" height="29.19" fill="#90E8FF"/>
<rect x="1.30" y="655.65" width="15.34" height="28.89" fill="#F2E09A"/>
<rect x="16.34" y="655.65" width="15.34" height="28.89" fill="#F4EEA8"/>
<rect x="31.38" y="655.65" width="15.34" height="28.89" fill="#ACF8FF"/>
<rect x="46.42" y="655.65" width="15.34" height="28.89" fill="#F4EEA8"/>
<rect x="61.46" y="655.65" width="15.04" height="28.89" fill="#D4FFFF"/>
<rect x="82.20" y="655.65" width="15.34" height="28.89" fill="#EEB07A"/>
<rect x="97.24" y="655.65" width="15.34" height="28.89" fill="#F0C98A"/>
<rect x="112.28" y="655.65" width="15.34" height="28.89" fill="#F0C98A"/>
<rect x="127.32" y="655.65" width="15.34" height="28.89" fill="#F0C98A"/>
<rect x="142.36" y="655.65" width="15.34" height="28.89" fill="#F4EEA8"/>
<rect x="157.40" y="655.65" width="15.34" height="28.89" fill="#F2E09A"/>
<rect x="172.44" y="655.65" width="15.34" height="28.89" fill="#F4EEA8"/>
<rect x="187.48" y="655.65" width="15.34" height="28.89" fill="#F4EEA8"/>
<rect x="202.52" y="655.65" width="15.34" height="28.89" fill="#F2E09A"/>
<rect x="217.56" y="655.65" width="15.34" height="28.89" fill="#F2E09A"/>
<rect x="232.60" y="655.65" width="15.34" height="28.89" fill="#F2E09A"/>
<rect x="247.64" y="655.65" width="15.34" height="28.89" fill="#F2E09A"/>
<rect x="262.68" y="655.65" width="15.34" height="28.89" fill="#EEB07A"/>
<rect x="277.72" y="655.65" width="15.34" height="28.89" fill="#EEB07A"/>
<rect x="292.76" y="655.65" width="15.34" height="28.89" fill="#F2E09A"/>
<rect x="307.80" y="655.65" width="15.34" height="28.89" fill="#F0C98A"/>
<rect x="322.84" y="655.65" width="15.34" height="28.89" fill="#F4EEA8"/>
<rect x="337.88" y="655.65" width="15.34" height="28.89" fill="#EEB07A"/>
<rect x="352.92" y="655.65" width="15.34" height="28.89" fill="#F4EEA8"/>
<rect x="367.96" y="655.65" width="15.34" height="28.89" fill="#F2E09A"/>
<rect x="383.00" y="655.65" width="15.34" height="28.89" fill="#F0C98A"/>
<rect x="398.04" y="655.65" width="15.34" height="28.89" fill="#F4EEA8"/>
<rect x="413.08" y="655.65" width="15.34" height="28.89" fill="#F4EEA8"/>
<rect x="428.12" y="655.65" width="15.34" height="28.89" fill="#F2E09A"/>
<rect x="443.16" y="655.65" width="15.04" height="28.89" fill="#3A10FF"/>
</g>
<g font-family="Liberation Sans, sans-serif">
<text x="31.8" y="36.9" font-size="51.3" font-weight="bold" fill="#000">A</text>
<text x="23.7" y="83.9" font-size="26.5" fill="#000">T2</text>
<text x="255.2" y="83.9" font-size="25.5" fill="#000">T1</text>
<text x="464.7" y="179.9" font-size="19.3" fill="#000">Cluster_ID</text>
<text x="464.7" y="209.9" font-size="19.3" fill="#000">TDS</text>
<text x="463.8" y="245.4" font-size="25" fill="#000">DIO1</text>
<text x="463.8" y="274.3" font-size="25" fill="#000">DIO2</text>
<text x="463.8" y="303.2" font-size="25" fill="#000">DUOX1</text>
<text x="463.8" y="332.1" font-size="25" fill="#000">DUOX2</text>
<text x="463.8" y="361.0" font-size="25" fill="#000">FOXE1</text>
<text x="463.8" y="389.9" font-size="25" fill="#000">GLIS3</text>
<text x="463.8" y="418.8" font-size="25" fill="#000">NKX2-1</text>
<text x="463.8" y="447.7" font-size="25" fill="#000">PAX8</text>
<text x="463.8" y="476.6" font-size="25" fill="#000">SLC26A4</text>
<text x="463.8" y="505.5" font-size="25" fill="#000">SLC5A5</text>
<text x="463.8" y="534.3" font-size="25" fill="#000">SLC5A8</text>
<text x="463.8" y="563.2" font-size="25" fill="#000">TG</text>
<text x="463.8" y="592.1" font-size="25" fill="#000">THRA</text>
<text x="463.8" y="621.0" font-size="25" fill="#000">THRB</text>
<text x="463.8" y="649.9" font-size="25" fill="#000">TPO</text>
<text x="463.8" y="678.8" font-size="25" fill="#000">TSHR</text>
<text transform="translate(14.5,691.2) rotate(-90)" text-anchor="end" font-size="16.3" textLength="54.6" lengthAdjust="spacingAndGlyphs">TC1601</text>
<text transform="translate(29.6,691.2) rotate(-90)" text-anchor="end" font-size="16.3" textLength="54.6" lengthAdjust="spacingAndGlyphs">TC1936</text>
<text transform="translate(44.6,691.2) rotate(-90)" text-anchor="end" font-size="16.3" textLength="54.6" lengthAdjust="spacingAndGlyphs">TC1473</text>
<text transform="translate(59.6,691.2) rotate(-90)" text-anchor="end" font-size="16.3" textLength="54.6" lengthAdjust="spacingAndGlyphs">TC1020</text>
<text transform="translate(74.7,691.2) rotate(-90)" text-anchor="end" font-size="16.3" textLength="54.6" lengthAdjust="spacingAndGlyphs">TC2289</text>
<text transform="translate(95.4,691.2) rotate(-90)" text-anchor="end" font-size="16.3" textLength="54.6" lengthAdjust="spacingAndGlyphs">TC1869</text>
<text transform="translate(110.5,691.2) rotate(-90)" text-anchor="end" font-size="16.3" textLength="36.4" lengthAdjust="spacingAndGlyphs">TC22</text>
<text transform="translate(125.5,691.2) rotate(-90)" text-anchor="end" font-size="16.3" textLength="54.6" lengthAdjust="spacingAndGlyphs">TC1218</text>
<text transform="translate(140.5,691.2) rotate(-90)" text-anchor="end" font-size="16.3" textLength="45.5" lengthAdjust="spacingAndGlyphs">TC640</text>
<text transform="translate(155.6,691.2) rotate(-90)" text-anchor="end" font-size="16.3" textLength="54.6" lengthAdjust="spacingAndGlyphs">TC2110</text>
<text transform="translate(170.6,691.2) rotate(-90)" text-anchor="end" font-size="16.3" textLength="54.6" lengthAdjust="spacingAndGlyphs">TC1593</text>
<text transform="translate(185.7,691.2) rotate(-90)" text-anchor="end" font-size="16.3" textLength="54.6" lengthAdjust="spacingAndGlyphs">TC1213</text>
<text transform="translate(200.7,691.2) rotate(-90)" text-anchor="end" font-size="16.3" textLength="36.4" lengthAdjust="spacingAndGlyphs">TC67</text>
<text transform="translate(215.7,691.2) rotate(-90)" text-anchor="end" font-size="16.3" textLength="54.6" lengthAdjust="spacingAndGlyphs">TC2011</text>
<text transform="translate(230.8,691.2) rotate(-90)" text-anchor="end" font-size="16.3" textLength="54.6" lengthAdjust="spacingAndGlyphs">TC2402</text>
<text transform="translate(245.8,691.2) rotate(-90)" text-anchor="end" font-size="16.3" textLength="54.6" lengthAdjust="spacingAndGlyphs">TC1744</text>
<text transform="translate(260.9,691.2) rotate(-90)" text-anchor="end" font-size="16.3" textLength="54.6" lengthAdjust="spacingAndGlyphs">TC1994</text>
<text transform="translate(275.9,691.2) rotate(-90)" text-anchor="end" font-size="16.3" textLength="54.6" lengthAdjust="spacingAndGlyphs">TC2288</text>
<text transform="translate(290.9,691.2) rotate(-90)" text-anchor="end" font-size="16.3" textLength="45.5" lengthAdjust="spacingAndGlyphs">TC627</text>
<text transform="translate(306.0,691.2) rotate(-90)" text-anchor="end" font-size="16.3" textLength="54.6" lengthAdjust="spacingAndGlyphs">TC1123</text>
<text transform="translate(321.0,691.2) rotate(-90)" text-anchor="end" font-size="16.3" textLength="45.5" lengthAdjust="spacingAndGlyphs">TC902</text>
<text transform="translate(336.1,691.2) rotate(-90)" text-anchor="end" font-size="16.3" textLength="54.6" lengthAdjust="spacingAndGlyphs">TC1164</text>
<text transform="translate(351.1,691.2) rotate(-90)" text-anchor="end" font-size="16.3" textLength="45.5" lengthAdjust="spacingAndGlyphs">TC538</text>
<text transform="translate(366.1,691.2) rotate(-90)" text-anchor="end" font-size="16.3" textLength="54.6" lengthAdjust="spacingAndGlyphs">TC2089</text>
<text transform="translate(381.2,691.2) rotate(-90)" text-anchor="end" font-size="16.3" textLength="45.5" lengthAdjust="spacingAndGlyphs">TC815</text>
<text transform="translate(396.2,691.2) rotate(-90)" text-anchor="end" font-size="16.3" textLength="54.6" lengthAdjust="spacingAndGlyphs">TC1979</text>
<text transform="translate(411.3,691.2) rotate(-90)" text-anchor="end" font-size="16.3" textLength="54.6" lengthAdjust="spacingAndGlyphs">TC1953</text>
<text transform="translate(426.3,691.2) rotate(-90)" text-anchor="end" font-size="16.3" textLength="45.5" lengthAdjust="spacingAndGlyphs">TC812</text>
<text transform="translate(441.3,691.2) rotate(-90)" text-anchor="end" font-size="16.3" textLength="54.6" lengthAdjust="spacingAndGlyphs">TC1241</text>
<text transform="translate(456.4,691.2) rotate(-90)" text-anchor="end" font-size="16.3" textLength="54.6" lengthAdjust="spacingAndGlyphs">TC1088</text>
</g>
<path d="M8.8,156.6V143.5H23.9V156.6 M53.9,156.6V144.0H69.0V156.6 M38.9,156.6V141.9H61.5V144.0 M16.3,143.5V134.3H50.2V141.9 M104.8,156.6V151.0H119.8V156.6 M89.7,156.6V146.6H112.3V151.0 M149.9,156.6V151.6H164.9V156.6 M180.0,156.6V152.0H195.0V156.6 M157.4,151.6V150.2H187.5V152.0 M134.8,156.6V148.4H172.4V150.2 M210.0,156.6V149.8H225.1V156.6 M240.1,156.6V152.0H255.2V156.6 M217.6,149.8V148.1H247.6V152.0 M153.6,148.4V145.6H232.6V148.1 M285.2,156.6V151.6H300.3V156.6 M292.8,151.6V149.3H315.3V156.6 M270.2,156.6V148.6H304.0V149.3 M287.1,148.6V148.1H330.4V156.6 M193.1,145.6V144.6H308.7V148.1 M101.0,146.6V140.9H250.9V144.6 M360.4,156.6V148.9H375.5V156.6 M368.0,148.9V145.9H390.5V156.6 M405.6,156.6V148.9H420.6V156.6 M413.1,148.9V145.9H435.6V156.6 M379.2,145.9V141.5H424.4V145.9 M345.4,156.6V138.2H401.8V141.5 M176.0,140.9V135.1H373.6V138.2 M274.8,135.1V117.7H450.7V156.6 M33.3,134.3V100.3H362.7V117.7" fill="none" stroke="#000" stroke-width="1.35"/>
<line x1="4.9" y1="114.6" x2="392" y2="114.6" stroke="#555" stroke-width="1.15" stroke-dasharray="3.3,5.5"/>
<g font-family="Liberation Sans, sans-serif">
<text x="590.6" y="241.5" font-size="19" font-weight="bold" fill="#000">Cluster_ID</text>
<rect x="591.00" y="253.60" width="20.50" height="20.30" fill="#862254"/>
<rect x="591.00" y="276.10" width="20.50" height="20.10" fill="#52758C"/>
<text x="617.5" y="270.8" font-size="19.5" fill="#000">T1</text>
<text x="617.5" y="292.8" font-size="19.5" fill="#000">T2</text>
<text x="590.6" y="333.4" font-size="19" font-weight="bold" fill="#000">TDS</text>
<defs>
<linearGradient id="gTDS" x1="0" y1="0" x2="0" y2="1">
<stop offset="0" stop-color="#2B6E1A"/>
<stop offset="0.06" stop-color="#2F7020"/>
<stop offset="0.13" stop-color="#5E8F4E"/>
<stop offset="0.219" stop-color="#C8DCC0"/>
<stop offset="0.27" stop-color="#FFFFFF"/>
<stop offset="0.408" stop-color="#EBDDFB"/>
<stop offset="0.594" stop-color="#C68CFA"/>
<stop offset="0.781" stop-color="#A93BFA"/>
<stop offset="1" stop-color="#A020FF"/>
</linearGradient>
<linearGradient id="gZ" x1="0" y1="0" x2="0" y2="1">
<stop offset="0" stop-color="#A51424"/>
<stop offset="0.13" stop-color="#A51020"/>
<stop offset="0.18" stop-color="#D02A2C"/>
<stop offset="0.23" stop-color="#E85444"/>
<stop offset="0.28" stop-color="#EE8060"/>
<stop offset="0.34" stop-color="#F0B080"/>
<stop offset="0.375" stop-color="#F2D898"/>
<stop offset="0.405" stop-color="#F5F5B0"/>
<stop offset="0.455" stop-color="#EFFFE0"/>
<stop offset="0.5" stop-color="#D0FFFF"/>
<stop offset="0.592" stop-color="#A0F5FF"/>
<stop offset="0.65" stop-color="#70C8FF"/>
<stop offset="0.7" stop-color="#4A80FF"/>
<stop offset="0.78" stop-color="#2A14FF"/>
<stop offset="1" stop-color="#3300FF"/>
</linearGradient>
</defs>
<rect x="589.50" y="344.10" width="23.70" height="145.10" fill="url(#gTDS)"/>
<line x1="589.5" y1="348.8" x2="593.5" y2="348.8" stroke="#fff" stroke-width="1.2"/>
<line x1="609.2" y1="348.8" x2="613.2" y2="348.8" stroke="#fff" stroke-width="1.2"/>
<text x="618.5" y="356.1" font-size="20.5" fill="#000">2</text>
<line x1="589.5" y1="376.0" x2="593.5" y2="376.0" stroke="#fff" stroke-width="1.2"/>
<line x1="609.2" y1="376.0" x2="613.2" y2="376.0" stroke="#fff" stroke-width="1.2"/>
<text x="618.5" y="383.3" font-size="20.5" fill="#000">0</text>
<line x1="589.5" y1="403.2" x2="593.5" y2="403.2" stroke="#fff" stroke-width="1.2"/>
<line x1="609.2" y1="403.2" x2="613.2" y2="403.2" stroke="#fff" stroke-width="1.2"/>
<text x="618.5" y="410.5" font-size="20.5" fill="#000">-2</text>
<line x1="589.5" y1="430.4" x2="593.5" y2="430.4" stroke="#fff" stroke-width="1.2"/>
<line x1="609.2" y1="430.4" x2="613.2" y2="430.4" stroke="#fff" stroke-width="1.2"/>
<text x="618.5" y="437.7" font-size="20.5" fill="#000">-4</text>
<line x1="589.5" y1="457.6" x2="593.5" y2="457.6" stroke="#fff" stroke-width="1.2"/>
<line x1="609.2" y1="457.6" x2="613.2" y2="457.6" stroke="#fff" stroke-width="1.2"/>
<text x="618.5" y="464.9" font-size="20.5" fill="#000">-6</text>
<line x1="589.5" y1="484.8" x2="593.5" y2="484.8" stroke="#fff" stroke-width="1.2"/>
<line x1="609.2" y1="484.8" x2="613.2" y2="484.8" stroke="#fff" stroke-width="1.2"/>
<text x="618.5" y="492.1" font-size="20.5" fill="#000">-8</text>
<text x="590.6" y="524.8" font-size="19" font-weight="bold" fill="#000">Z-score</text>
<rect x="589.50" y="535.60" width="23.70" height="145.00" fill="url(#gZ)"/>
<line x1="589.5" y1="540.0" x2="593.5" y2="540.0" stroke="#fff" stroke-width="1.2"/>
<line x1="609.2" y1="540.0" x2="613.2" y2="540.0" stroke="#fff" stroke-width="1.2"/>
<text x="618.5" y="547.3" font-size="20.5" fill="#000">4</text>
<line x1="589.5" y1="567.1" x2="593.5" y2="567.1" stroke="#fff" stroke-width="1.2"/>
<line x1="609.2" y1="567.1" x2="613.2" y2="567.1" stroke="#fff" stroke-width="1.2"/>
<text x="618.5" y="574.4" font-size="20.5" fill="#000">2</text>
<line x1="589.5" y1="594.2" x2="593.5" y2="594.2" stroke="#fff" stroke-width="1.2"/>
<line x1="609.2" y1="594.2" x2="613.2" y2="594.2" stroke="#fff" stroke-width="1.2"/>
<text x="618.5" y="601.5" font-size="20.5" fill="#000">0</text>
<line x1="589.5" y1="621.4" x2="593.5" y2="621.4" stroke="#fff" stroke-width="1.2"/>
<line x1="609.2" y1="621.4" x2="613.2" y2="621.4" stroke="#fff" stroke-width="1.2"/>
<text x="618.5" y="628.7" font-size="20.5" fill="#000">-2</text>
<line x1="589.5" y1="648.5" x2="593.5" y2="648.5" stroke="#fff" stroke-width="1.2"/>
<line x1="609.2" y1="648.5" x2="613.2" y2="648.5" stroke="#fff" stroke-width="1.2"/>
<text x="618.5" y="655.8" font-size="20.5" fill="#000">-4</text>
<line x1="589.5" y1="675.6" x2="593.5" y2="675.6" stroke="#fff" stroke-width="1.2"/>
<line x1="609.2" y1="675.6" x2="613.2" y2="675.6" stroke="#fff" stroke-width="1.2"/>
<text x="618.5" y="682.9" font-size="20.5" fill="#000">-6</text>
</g>
<g id="panelB">
<text x="840.7" y="37.2" font-size="51.3" font-weight="bold">B</text>
<line x1="866.3" y1="66.0" x2="866.3" y2="643.4" stroke="#000" stroke-width="1.45"/>
<line x1="865.6" y1="642.7" x2="1419.2" y2="642.7" stroke="#000" stroke-width="1.45"/>
<line x1="860.3" y1="183.8" x2="866.3" y2="183.8" stroke="#000" stroke-width="1.45"/>
<text x="855.8" y="194.9" font-size="31" text-anchor="end">2.5</text>
<line x1="860.3" y1="303.9" x2="866.3" y2="303.9" stroke="#000" stroke-width="1.45"/>
<text x="855.7" y="315.0" font-size="31" text-anchor="end">0.0</text>
<line x1="860.3" y1="423.9" x2="866.3" y2="423.9" stroke="#000" stroke-width="1.45"/>
<text x="855.9" y="435.1" font-size="31" text-anchor="end">-2.5</text>
<line x1="860.3" y1="544.0" x2="866.3" y2="544.0" stroke="#000" stroke-width="1.45"/>
<text x="855.8" y="555.1" font-size="31" text-anchor="end">-5.0</text>
<line x1="969.6" y1="642.7" x2="969.6" y2="648.7" stroke="#000" stroke-width="1.45"/>
<text x="937.8" y="678.7" font-size="31">poor</text>
<line x1="1142.9" y1="642.7" x2="1142.9" y2="648.7" stroke="#000" stroke-width="1.45"/>
<text x="1077.1" y="678.7" font-size="31">moderate</text>
<line x1="1316.1" y1="642.7" x2="1316.1" y2="648.7" stroke="#000" stroke-width="1.45"/>
<text x="1290.4" y="678.7" font-size="31">well</text>
<text x="914.8" y="709.9" font-size="31.3">Tumor differentiation category as</text>
<text x="969.1" y="743.9" font-size="31.3">designated by pathologist</text>
<text transform="translate(757.6,354.5) rotate(-90)" text-anchor="middle" font-size="31.3">Thyroid Differentiation Score (TDS)</text>
<text transform="translate(793.6,354.5) rotate(-90)" text-anchor="middle" font-size="31.3">calculated using gene expression levels</text>
<line x1="969.6" y1="353.2" x2="969.6" y2="466.9" stroke="#000" stroke-width="2.1"/>
<line x1="969.6" y1="581.7" x2="969.6" y2="610.0" stroke="#000" stroke-width="2.1"/>
<rect x="909.70" y="466.90" width="120.90" height="114.80" fill="none" stroke="#000" stroke-width="2.1"/>
<line x1="909.7" y1="538.2" x2="1030.6" y2="538.2" stroke="#000" stroke-width="3.4"/>
<circle cx="969.6" cy="353.2" r="7.1" fill="#000"/>
<circle cx="969.6" cy="504.7" r="7.1" fill="#000"/>
<circle cx="969.6" cy="571.8" r="7.1" fill="#000"/>
<circle cx="969.6" cy="610.0" r="7.1" fill="#000"/>
<line x1="1142.9" y1="249.6" x2="1142.9" y2="274.8" stroke="#4D4D4D" stroke-width="2.1"/>
<line x1="1142.9" y1="358.4" x2="1142.9" y2="423.0" stroke="#4D4D4D" stroke-width="2.1"/>
<rect x="1082.20" y="274.80" width="122.10" height="83.60" fill="none" stroke="#4D4D4D" stroke-width="2.1"/>
<line x1="1082.2" y1="306.8" x2="1204.3" y2="306.8" stroke="#4D4D4D" stroke-width="3.4"/>
<circle cx="1136.2" cy="249.6" r="7.1" fill="#4D4D4D"/>
<circle cx="1149.7" cy="249.6" r="7.1" fill="#4D4D4D"/>
<circle cx="1129.4" cy="269.7" r="7.1" fill="#4D4D4D"/>
<circle cx="1142.9" cy="269.7" r="7.1" fill="#4D4D4D"/>
<circle cx="1156.4" cy="269.7" r="7.1" fill="#4D4D4D"/>
<circle cx="1136.2" cy="288.0" r="7.1" fill="#4D4D4D"/>
<circle cx="1149.7" cy="288.0" r="7.1" fill="#4D4D4D"/>
<circle cx="1136.2" cy="307.3" r="7.1" fill="#4D4D4D"/>
<circle cx="1149.7" cy="307.3" r="7.1" fill="#4D4D4D"/>
<circle cx="1136.2" cy="329.3" r="7.1" fill="#4D4D4D"/>
<circle cx="1149.7" cy="329.3" r="7.1" fill="#4D4D4D"/>
<circle cx="1142.9" cy="354.5" r="7.1" fill="#4D4D4D"/>
<circle cx="1136.2" cy="373.3" r="7.1" fill="#4D4D4D"/>
<circle cx="1149.7" cy="373.3" r="7.1" fill="#4D4D4D"/>
<circle cx="1142.9" cy="423.0" r="7.1" fill="#4D4D4D"/>
<circle cx="1142.9" cy="604.9" r="7.1" fill="#4D4D4D"/>
<line x1="1316.1" y1="208.3" x2="1316.1" y2="257.6" stroke="#838383" stroke-width="2.1"/>
<line x1="1316.1" y1="308.4" x2="1316.1" y2="371.7" stroke="#838383" stroke-width="2.1"/>
<rect x="1255.20" y="257.60" width="122.10" height="50.80" fill="none" stroke="#838383" stroke-width="2.1"/>
<line x1="1255.2" y1="275.2" x2="1377.3" y2="275.2" stroke="#838383" stroke-width="3.4"/>
<circle cx="1316.1" cy="208.3" r="7.1" fill="#838383"/>
<circle cx="1316.1" cy="238.8" r="7.1" fill="#838383"/>
<circle cx="1316.1" cy="253.0" r="7.1" fill="#838383"/>
<circle cx="1302.6" cy="272.9" r="7.1" fill="#838383"/>
<circle cx="1316.1" cy="272.9" r="7.1" fill="#838383"/>
<circle cx="1329.6" cy="272.9" r="7.1" fill="#838383"/>
<circle cx="1309.3" cy="308.4" r="7.1" fill="#838383"/>
<circle cx="1322.8" cy="308.4" r="7.1" fill="#838383"/>
<circle cx="1316.1" cy="336.6" r="7.1" fill="#838383"/>
<circle cx="1316.1" cy="371.7" r="7.1" fill="#838383"/>
<path d="M1143.1,104.3V92.4H1316.5V104.3" stroke="#000" stroke-width="1.3" fill="none"/>
<path d="M969.7,152.3V139.8H1316.5V152.3" stroke="#000" stroke-width="1.3" fill="none"/>
<path d="M969.7,199.7V187.9H1143.1V199.7" stroke="#000" stroke-width="1.3" fill="none"/>
<text x="1213.2" y="86.2" font-size="31">ns</text>
<text x="1130.7" y="132.2" font-size="31">**</text>
<text x="1050.7" y="180.4" font-size="31">*</text>
<text x="908.2" y="208.4" font-size="27.9">Kruskal-Wallis, p = 0.011</text>
</g>
<g id="panelC">
<text x="30.9" y="808.6" font-size="51.3" font-weight="bold">C</text>
<path d="M138.6,1025.0 C139.0,1027.7 140.1,1036.0 141.0,1041.0 C141.9,1046.0 142.9,1049.3 144.0,1055.0 C145.1,1060.7 146.5,1068.3 147.6,1075.0 C148.7,1081.7 149.8,1089.1 150.5,1095.0 C151.2,1100.9 151.1,1105.3 151.8,1110.3 C152.6,1115.3 153.9,1120.0 155.0,1125.0 C156.1,1130.0 157.1,1134.1 158.2,1140.0 C159.3,1145.9 160.4,1153.7 161.6,1160.4 C162.8,1167.1 164.2,1173.3 165.6,1180.0 C167.0,1186.7 168.8,1195.5 170.1,1200.5 C171.4,1205.5 171.9,1205.1 173.4,1210.0 C174.9,1214.9 176.9,1223.2 178.8,1230.0 C180.7,1236.8 182.7,1243.0 184.8,1250.5 C186.9,1258.0 189.3,1266.6 191.6,1275.0 C193.9,1283.4 196.4,1292.5 198.8,1301.0 C201.2,1309.5 203.5,1317.6 206.0,1326.0 C208.5,1334.4 211.1,1344.3 213.7,1351.6 C216.3,1358.9 218.5,1362.4 221.6,1370.0 C224.7,1377.6 228.3,1388.0 232.0,1397.0 C235.7,1406.0 239.9,1415.6 243.5,1423.9 C247.1,1432.2 250.4,1440.4 253.6,1447.1 C256.8,1453.8 259.4,1456.9 262.7,1464.3 C266.0,1471.7 269.1,1482.3 273.5,1491.3 C277.9,1500.3 283.3,1509.2 289.0,1518.2 C294.7,1527.2 301.5,1537.4 307.8,1545.2 C314.1,1553.0 320.4,1559.0 326.7,1565.0 C332.9,1571.0 339.5,1577.3 345.3,1581.0 C351.1,1584.7 355.9,1585.5 361.7,1587.3 C367.5,1589.1 372.2,1592.9 380.3,1592.0 C388.4,1591.1 400.9,1586.6 410.4,1582.0 C419.9,1577.4 429.5,1571.0 437.4,1564.5 C445.3,1558.0 451.8,1550.1 457.6,1542.9 C463.4,1535.7 467.9,1528.8 472.4,1521.4 C476.9,1514.0 481.2,1506.4 484.6,1498.5 C488.0,1490.6 489.5,1482.1 492.6,1474.2 C495.7,1466.3 499.6,1459.6 503.4,1451.3 C507.2,1443.0 511.6,1432.5 515.5,1424.3 C519.4,1416.1 523.7,1407.9 526.5,1402.0 C529.3,1396.1 530.5,1393.5 532.5,1389.0 C534.5,1384.5 536.7,1380.3 538.5,1375.0 C540.3,1369.7 541.8,1362.5 543.5,1357.0 C545.2,1351.5 546.6,1347.5 548.5,1342.0 C550.4,1336.5 552.8,1330.2 555.0,1323.9 C557.2,1317.6 559.8,1309.2 561.5,1304.0 C563.2,1298.8 564.4,1297.0 565.5,1293.0 C566.6,1289.0 567.1,1283.7 568.3,1280.0 C569.5,1276.3 571.0,1273.7 572.5,1271.0 C574.0,1268.3 575.6,1267.5 577.0,1264.0 C578.4,1260.5 579.6,1255.3 581.0,1250.0 C582.4,1244.7 583.6,1239.7 585.5,1232.0 C587.4,1224.3 590.3,1213.6 592.5,1203.9 C594.7,1194.2 597.1,1181.0 598.5,1174.0 C599.9,1167.0 600.1,1167.1 601.0,1162.0 C601.9,1156.9 602.4,1150.5 603.8,1143.3 C605.2,1136.1 607.8,1127.1 609.5,1119.0 C611.2,1110.9 612.3,1104.8 614.0,1094.7 C615.7,1084.6 618.4,1067.4 619.6,1058.3 C620.9,1049.2 621.0,1045.2 621.5,1040.0 C622.0,1034.8 622.1,1031.2 622.5,1027.0 C622.9,1022.8 623.2,1020.3 624.0,1015.0 C624.8,1009.7 626.1,1001.1 627.0,995.3 C627.9,989.5 628.8,984.9 629.5,980.0 C630.2,975.1 631.2,968.5 631.5,966.2" fill="none" stroke="#D3D3D3" stroke-width="11.8" stroke-linejoin="round" stroke-linecap="round"/>
<path d="M143.6,1041.0 C144.1,1043.3 145.5,1049.3 146.6,1055.0 C147.7,1060.7 149.1,1068.3 150.2,1075.0 C151.3,1081.7 152.4,1089.1 153.1,1095.0 C153.8,1100.9 153.7,1105.3 154.4,1110.3 C155.2,1115.3 156.5,1120.0 157.6,1125.0 C158.7,1130.0 159.7,1134.1 160.8,1140.0 C161.9,1145.9 163.0,1153.7 164.2,1160.4 C165.4,1167.1 166.8,1173.3 168.2,1180.0 C169.6,1186.7 171.4,1195.5 172.7,1200.5 C174.0,1205.5 174.6,1205.1 176.0,1210.0 C177.4,1214.9 180.5,1226.7 181.4,1230.0" fill="none" stroke="#D3D3D3" stroke-width="10.5" stroke-linejoin="round" stroke-linecap="round"/>
<circle cx="145.0" cy="1034.1" r="5.5" fill="#D3D3D3"/>
<circle cx="148.0" cy="1054.7" r="5.5" fill="#D3D3D3"/>
<circle cx="151.0" cy="1074.7" r="5.5" fill="#D3D3D3"/>
<circle cx="153.1" cy="1085.8" r="5.5" fill="#D3D3D3"/>
<circle cx="154.1" cy="1094.8" r="5.5" fill="#D3D3D3"/>
<circle cx="160.1" cy="1135.4" r="5.5" fill="#D3D3D3"/>
<circle cx="163.1" cy="1149.4" r="5.5" fill="#D3D3D3"/>
<circle cx="166.1" cy="1160.4" r="5.5" fill="#D3D3D3"/>
<circle cx="138.6" cy="1025.1" r="5.5" fill="#D3D3D3"/>
<circle cx="141.0" cy="1041.2" r="5.5" fill="#D3D3D3"/>
<circle cx="144.0" cy="1062.2" r="5.5" fill="#D3D3D3"/>
<circle cx="147.6" cy="1083.2" r="5.5" fill="#D3D3D3"/>
<circle cx="149.6" cy="1096.8" r="5.5" fill="#D3D3D3"/>
<circle cx="154.6" cy="1130.3" r="5.5" fill="#D3D3D3"/>
<circle cx="161.9" cy="1135.0" r="5.5" fill="#D3D3D3"/>
<circle cx="166.7" cy="1154.0" r="5.5" fill="#D3D3D3"/>
<circle cx="171.5" cy="1173.4" r="5.5" fill="#D3D3D3"/>
<circle cx="174.7" cy="1202.3" r="5.5" fill="#D3D3D3"/>
<circle cx="179.5" cy="1218.3" r="5.5" fill="#D3D3D3"/>
<circle cx="182.7" cy="1234.4" r="5.5" fill="#D3D3D3"/>
<circle cx="578.0" cy="1225.0" r="5.5" fill="#D3D3D3"/>
<circle cx="581.0" cy="1215.0" r="5.5" fill="#D3D3D3"/>
<circle cx="584.0" cy="1205.0" r="5.5" fill="#D3D3D3"/>
<circle cx="587.0" cy="1195.0" r="5.5" fill="#D3D3D3"/>
<circle cx="596.0" cy="1160.0" r="5.5" fill="#D3D3D3"/>
<circle cx="617.2" cy="1007.4" r="5.5" fill="#D3D3D3"/>
<circle cx="616.0" cy="1018.3" r="5.5" fill="#D3D3D3"/>
<circle cx="614.0" cy="1005.0" r="5.5" fill="#D3D3D3"/>
<circle cx="108.0" cy="894.8" r="5.5" fill="#D3D3D3"/>
<circle cx="117.0" cy="894.8" r="5.5" fill="#D3D3D3"/>
<circle cx="104.1" cy="894.8" r="5.5" fill="#D3D3D3"/>
<circle cx="122.6" cy="894.8" r="5.5" fill="#D3D3D3"/>
<circle cx="114.3" cy="903.6" r="5.5" fill="#D3D3D3"/>
<circle cx="116.5" cy="906.5" r="5.5" fill="#D3D3D3"/>
<circle cx="118.0" cy="909.7" r="5.5" fill="#D3D3D3"/>
<circle cx="130.9" cy="936.8" r="5.5" fill="#D3D3D3"/>
<circle cx="133.1" cy="955.3" r="5.5" fill="#D3D3D3"/>
<circle cx="129.4" cy="968.2" r="5.5" fill="#D3D3D3"/>
<circle cx="130.9" cy="972.8" r="5.5" fill="#D3D3D3"/>
<circle cx="131.0" cy="978.0" r="5.5" fill="#D3D3D3"/>
<circle cx="137.9" cy="980.1" r="5.5" fill="#D3D3D3"/>
<circle cx="132.7" cy="987.5" r="5.5" fill="#D3D3D3"/>
<circle cx="140.6" cy="1006.9" r="5.5" fill="#D3D3D3"/>
<circle cx="136.8" cy="1016.1" r="5.5" fill="#D3D3D3"/>
<circle cx="143.0" cy="1030.0" r="5.5" fill="#D3D3D3"/>
<circle cx="146.0" cy="1040.0" r="5.5" fill="#D3D3D3"/>
<circle cx="634.2" cy="896.0" r="5.5" fill="#D3D3D3"/>
<circle cx="648.0" cy="894.3" r="5.5" fill="#D3D3D3"/>
<circle cx="668.0" cy="894.3" r="5.5" fill="#D3D3D3"/>
<circle cx="685.3" cy="894.3" r="5.5" fill="#D3D3D3"/>
<circle cx="643.0" cy="906.0" r="5.5" fill="#D3D3D3"/>
<circle cx="640.5" cy="912.3" r="5.5" fill="#D3D3D3"/>
<circle cx="636.7" cy="933.5" r="5.5" fill="#D3D3D3"/>
<circle cx="634.2" cy="948.5" r="5.5" fill="#D3D3D3"/>
<circle cx="632.0" cy="956.0" r="5.5" fill="#D3D3D3"/>
<circle cx="629.0" cy="967.0" r="5.5" fill="#D3D3D3"/>
<circle cx="626.0" cy="985.0" r="5.5" fill="#D3D3D3"/>
<circle cx="621.0" cy="1000.0" r="5.5" fill="#D3D3D3"/>
<circle cx="620.5" cy="1018.3" r="5.5" fill="#D3D3D3"/>
<circle cx="617.0" cy="1050.0" r="5.5" fill="#D3D3D3"/>
<circle cx="641.2" cy="894.3" r="5.8" fill="#FF2414"/>
<circle cx="654.7" cy="894.3" r="5.8" fill="#FF2414"/>
<circle cx="658.5" cy="894.3" r="5.8" fill="#FF2414"/>
<circle cx="661.6" cy="894.3" r="5.8" fill="#FF2414"/>
<circle cx="673.0" cy="894.3" r="5.8" fill="#FF2414"/>
<circle cx="675.4" cy="894.3" r="5.8" fill="#FF2414"/>
<circle cx="638.7" cy="926.5" r="5.8" fill="#FF2414"/>
<circle cx="636.2" cy="942.2" r="5.8" fill="#FF2414"/>
<circle cx="621.8" cy="1027.0" r="5.8" fill="#FF2414"/>
<circle cx="597.2" cy="1174.0" r="5.8" fill="#FF2414"/>
<circle cx="532.5" cy="1389.0" r="5.8" fill="#FF2414"/>
<circle cx="253.8" cy="1447.0" r="5.8" fill="#FF2414"/>
<circle cx="345.2" cy="1580.7" r="5.8" fill="#FF2414"/>
<circle cx="355.7" cy="1585.8" r="5.8" fill="#FF2414"/>
<circle cx="599.4" cy="1163.2" r="5.8" fill="#1E1E76"/>
<circle cx="576.2" cy="1256.0" r="5.8" fill="#1E1E76"/>
<circle cx="562.6" cy="1304.5" r="5.8" fill="#1E1E76"/>
<circle cx="556.0" cy="1324.0" r="5.8" fill="#1E1E76"/>
<circle cx="111.3" cy="894.6" r="5.8" fill="#2D7020"/>
<circle cx="186.6" cy="1252.1" r="5.8" fill="#2D7020"/>
<circle cx="204.6" cy="1315.7" r="5.8" fill="#2D7020"/>
<circle cx="202.6" cy="1319.3" r="5.8" fill="#2D7020"/>
<line x1="427.3" y1="871.2" x2="639.2" y2="892.4" stroke="#FF2414" stroke-width="1.5"/>
<line x1="540.7" y1="871.2" x2="655.4" y2="892.4" stroke="#FF2414" stroke-width="1.5"/>
<line x1="641.7" y1="872.0" x2="669.1" y2="891.1" stroke="#FF2414" stroke-width="1.5"/>
<line x1="515.3" y1="917.8" x2="634.2" y2="896.1" stroke="#FF2414" stroke-width="1.5"/>
<line x1="623.0" y1="916.0" x2="649.2" y2="899.8" stroke="#FF2414" stroke-width="1.5"/>
<line x1="622.6" y1="961.6" x2="634.4" y2="936.0" stroke="#FF2414" stroke-width="1.5"/>
<text x="369.4" y="879.4" font-size="22.6" fill="#FF1E10">DIO1</text>
<text x="452.5" y="879.4" font-size="22.6" fill="#FF1E10">SLC5A5</text>
<text x="559.6" y="879.4" font-size="22.6" fill="#FF1E10">DUOX2</text>
<text x="426.8" y="926.0" font-size="22.6" fill="#FF1E10">SLC5A8</text>
<text x="540.7" y="926.0" font-size="22.6" fill="#FF1E10">DUOX1</text>
<text x="663.5" y="929.3" font-size="22.6" fill="#FF1E10">TG</text>
<text x="553.8" y="971.8" font-size="22.6" fill="#FF1E10">GLIS3</text>
<text x="648.4" y="976.5" font-size="22.6" fill="#FF1E10">TPO</text>
<text x="543.6" y="1018.3" font-size="22.6" fill="#FF1E10">TSHR</text>
<text x="566.7" y="1155.8" font-size="22.6" fill="#FF1E10">PAX8</text>
<text x="504.0" y="1371.1" font-size="22.6" fill="#FF1E10">SLC26A4</text>
<text x="243.5" y="1429.6" font-size="22.6" fill="#FF1E10">THRA</text>
<text x="296.5" y="1563.5" font-size="22.6" fill="#FF1E10">DIO2</text>
<text x="372.8" y="1613.2" font-size="22.6" fill="#FF1E10">THRB</text>
<text x="562.0" y="1142.5" font-size="22.6" fill="#1E1E78">VEGFA</text>
<text x="548.5" y="1236.0" font-size="22.6" fill="#1E1E78">AKT2</text>
<text x="481.6" y="1283.8" font-size="22.6" fill="#1E1E78">ERBB2</text>
<text x="457.8" y="1329.1" font-size="22.6" fill="#1E1E78">CCND3</text>
<text x="129.8" y="902.7" font-size="22.6" fill="#2D7A1F">CHEK1</text>
<text x="196.2" y="1232.3" font-size="22.6" fill="#2D7A1F">ERBB4</text>
<text x="204.3" y="1296.0" font-size="22.6" fill="#2D7A1F">NTRK1</text>
<text x="203.8" y="1355.7" font-size="22.6" fill="#2D7A1F">EGFR</text>
<line x1="75.2" y1="848.5" x2="75.2" y2="1629.0" stroke="#000" stroke-width="1.45"/>
<line x1="74.5" y1="1628.3" x2="713.2" y2="1628.3" stroke="#000" stroke-width="1.45"/>
<line x1="69.7" y1="1612.4" x2="75.2" y2="1612.4" stroke="#000" stroke-width="1.45"/>
<text x="64.8" y="1623.4" font-size="31" text-anchor="end">0</text>
<line x1="69.7" y1="1396.5" x2="75.2" y2="1396.5" stroke="#000" stroke-width="1.45"/>
<text x="65.1" y="1407.5" font-size="31" text-anchor="end">1</text>
<line x1="69.7" y1="1180.4" x2="75.2" y2="1180.4" stroke="#000" stroke-width="1.45"/>
<text x="65.3" y="1191.4" font-size="31" text-anchor="end">2</text>
<line x1="69.7" y1="963.9" x2="75.2" y2="963.9" stroke="#000" stroke-width="1.45"/>
<text x="65.0" y="974.9" font-size="31" text-anchor="end">3</text>
<line x1="211.1" y1="1628.3" x2="211.1" y2="1634.0" stroke="#000" stroke-width="1.45"/>
<text x="212.4" y="1663.8" font-size="31" text-anchor="end">-0.5</text>
<line x1="380.2" y1="1628.3" x2="380.2" y2="1634.0" stroke="#000" stroke-width="1.45"/>
<text x="381.3" y="1663.8" font-size="31" text-anchor="end">0.0</text>
<line x1="549.4" y1="1628.3" x2="549.4" y2="1634.0" stroke="#000" stroke-width="1.45"/>
<text x="550.6" y="1663.8" font-size="31" text-anchor="end">0.5</text>
<text x="161.0" y="1695.4" font-size="32.5">Spearman correlation coefficient</text>
<text transform="translate(28.5,1238.0) rotate(-90)" text-anchor="middle" font-size="32.5">Log<tspan dy="6.1" font-size="23.3">10</tspan><tspan dy="-6.1"> FDR</tspan></text>
<text x="275.5" y="1033.6" font-size="24.5">Selected gene type</text>
<circle cx="293.2" cy="1064.7" r="5.85" fill="#FF2414"/>
<text x="321.3" y="1071.8" font-size="20">16 Thyroid genes</text>
<circle cx="293.2" cy="1099.6" r="5.85" fill="#2D7020"/>
<text x="322.8" y="1106.7" font-size="20">Anti-correlated genes</text>
<circle cx="293.2" cy="1134.7" r="5.85" fill="#1E1E76"/>
<text x="321.8" y="1141.8" font-size="20">Correlated genes</text>
</g>
<g id="panelD">
<text x="840.9" y="808.6" font-size="51.3" font-weight="bold">D</text>
<path d="M901.0,1180.0 C901.5,1182.0 902.6,1188.0 903.7,1192.0 C904.9,1196.0 906.5,1199.6 907.9,1204.3 C909.3,1209.0 910.4,1211.9 912.0,1220.0 C913.6,1228.1 915.5,1243.3 917.3,1252.8 C919.0,1262.3 920.6,1268.9 922.5,1277.0 C924.4,1285.1 926.6,1293.2 928.8,1301.3 C931.0,1309.4 933.7,1317.5 935.8,1325.6 C937.9,1333.7 939.5,1341.7 941.3,1349.8 C943.1,1357.9 944.3,1366.0 946.7,1374.1 C949.1,1382.2 952.8,1390.2 955.8,1398.3 C958.8,1406.4 961.8,1414.5 964.9,1422.6 C968.0,1430.7 970.5,1438.8 974.6,1446.9 C978.7,1455.0 983.9,1462.8 989.2,1471.1 C994.5,1479.4 1000.4,1487.6 1006.3,1496.6 C1012.2,1505.6 1019.5,1517.2 1024.5,1524.9 C1029.5,1532.7 1031.6,1537.0 1036.0,1543.1 C1040.4,1549.2 1045.3,1555.9 1050.8,1561.3 C1056.3,1566.7 1062.2,1571.5 1068.9,1575.4 C1075.6,1579.3 1081.9,1581.7 1091.2,1584.5 C1100.5,1587.3 1113.7,1591.8 1124.5,1592.0 C1135.3,1592.2 1145.8,1588.8 1155.9,1585.5 C1166.0,1582.2 1177.5,1577.1 1185.2,1572.4 C1193.0,1567.7 1197.2,1563.1 1202.4,1557.2 C1207.6,1551.3 1211.5,1543.7 1216.5,1537.0 C1221.5,1530.3 1227.7,1523.9 1232.7,1516.8 C1237.8,1509.7 1241.5,1502.5 1246.8,1494.6 C1252.1,1486.7 1260.6,1475.2 1264.6,1469.3 C1268.6,1463.4 1268.2,1464.8 1270.8,1459.3 C1273.4,1453.8 1277.4,1444.3 1280.4,1436.5 C1283.4,1428.7 1286.1,1420.5 1288.9,1412.5 C1291.7,1404.5 1294.8,1395.0 1297.3,1388.4 C1299.8,1381.8 1301.9,1378.4 1303.9,1372.8 C1305.9,1367.2 1307.7,1360.6 1309.3,1354.8 C1310.9,1349.0 1312.1,1343.5 1313.5,1337.9 C1314.9,1332.3 1316.1,1327.1 1317.7,1321.1 C1319.3,1315.1 1321.3,1308.6 1323.1,1301.9 C1324.9,1295.2 1326.9,1287.1 1328.5,1280.8 C1330.1,1274.5 1331.7,1268.9 1332.7,1264.0 C1333.7,1259.1 1333.6,1255.7 1334.5,1251.4 C1335.4,1247.1 1336.9,1243.3 1338.1,1238.1 C1339.3,1232.9 1340.9,1225.5 1341.7,1220.1 C1342.5,1214.7 1342.4,1210.7 1343.0,1205.7 C1343.6,1200.7 1344.2,1195.0 1345.4,1190.0 C1346.6,1185.0 1348.7,1180.3 1350.0,1176.0 C1351.3,1171.7 1352.5,1166.0 1353.0,1164.0" fill="none" stroke="#D3D3D3" stroke-width="10.5" stroke-linejoin="round" stroke-linecap="round"/>
<path d="M901.0,1180.0 C901.5,1182.0 902.6,1188.0 903.7,1192.0 C904.9,1196.0 906.5,1199.6 907.9,1204.3 C909.3,1209.0 910.4,1211.9 912.0,1220.0 C913.6,1228.1 915.5,1243.3 917.3,1252.8 C919.0,1262.3 920.6,1268.9 922.5,1277.0 C924.4,1285.1 926.6,1293.2 928.8,1301.3 C931.0,1309.4 933.7,1317.5 935.8,1325.6 C937.9,1333.7 939.5,1341.7 941.3,1349.8 C943.1,1357.9 944.3,1366.0 946.7,1374.1 C949.1,1382.2 952.8,1390.2 955.8,1398.3 C958.8,1406.4 961.8,1414.5 964.9,1422.6 C968.0,1430.7 970.5,1438.8 974.6,1446.9 C978.7,1455.0 983.9,1462.8 989.2,1471.1 C994.5,1479.4 1000.4,1487.6 1006.3,1496.6 C1012.2,1505.6 1019.5,1517.2 1024.5,1524.9 C1029.5,1532.7 1034.1,1540.1 1036.0,1543.1" fill="none" stroke="#D3D3D3" stroke-width="13.8" stroke-linejoin="round" stroke-linecap="round"/>
<path d="M1216.5,1537.0 C1219.2,1533.6 1227.7,1523.9 1232.7,1516.8 C1237.8,1509.7 1241.5,1502.5 1246.8,1494.6 C1252.1,1486.7 1260.6,1475.2 1264.6,1469.3 C1268.6,1463.4 1268.2,1464.8 1270.8,1459.3 C1273.4,1453.8 1277.4,1444.3 1280.4,1436.5 C1283.4,1428.7 1286.1,1420.5 1288.9,1412.5 C1291.7,1404.5 1294.8,1395.0 1297.3,1388.4 C1299.8,1381.8 1301.9,1378.4 1303.9,1372.8 C1305.9,1367.2 1307.7,1360.6 1309.3,1354.8 C1310.9,1349.0 1312.1,1343.5 1313.5,1337.9 C1314.9,1332.3 1316.1,1327.1 1317.7,1321.1 C1319.3,1315.1 1321.3,1308.6 1323.1,1301.9 C1324.9,1295.2 1326.9,1287.1 1328.5,1280.8 C1330.1,1274.5 1331.7,1268.9 1332.7,1264.0 C1333.7,1259.1 1333.6,1255.7 1334.5,1251.4 C1335.4,1247.1 1336.9,1243.3 1338.1,1238.1 C1339.3,1232.9 1340.9,1225.5 1341.7,1220.1 C1342.5,1214.7 1342.4,1210.7 1343.0,1205.7 C1343.6,1200.7 1344.2,1195.0 1345.4,1190.0 C1346.6,1185.0 1348.7,1180.3 1350.0,1176.0 C1351.3,1171.7 1352.5,1166.0 1353.0,1164.0" fill="none" stroke="#D3D3D3" stroke-width="13.8" stroke-linejoin="round" stroke-linecap="round"/>
<circle cx="856.7" cy="884.0" r="5.5" fill="#D3D3D3"/>
<circle cx="869.6" cy="927.7" r="5.5" fill="#D3D3D3"/>
<circle cx="876.5" cy="997.3" r="5.5" fill="#D3D3D3"/>
<circle cx="880.7" cy="1035.1" r="5.5" fill="#D3D3D3"/>
<circle cx="883.5" cy="1059.6" r="5.5" fill="#D3D3D3"/>
<circle cx="885.3" cy="1074.8" r="5.5" fill="#D3D3D3"/>
<circle cx="891.4" cy="1089.1" r="5.5" fill="#D3D3D3"/>
<circle cx="888.1" cy="1096.0" r="5.5" fill="#D3D3D3"/>
<circle cx="889.9" cy="1108.5" r="5.5" fill="#D3D3D3"/>
<circle cx="891.2" cy="1117.5" r="5.5" fill="#D3D3D3"/>
<circle cx="892.7" cy="1129.7" r="5.5" fill="#D3D3D3"/>
<circle cx="893.6" cy="1136.5" r="5.5" fill="#D3D3D3"/>
<circle cx="898.2" cy="1138.7" r="5.5" fill="#D3D3D3"/>
<circle cx="899.1" cy="1141.1" r="5.5" fill="#D3D3D3"/>
<circle cx="895.4" cy="1151.2" r="5.5" fill="#D3D3D3"/>
<circle cx="901.0" cy="1153.1" r="5.5" fill="#D3D3D3"/>
<circle cx="901.0" cy="1158.6" r="5.5" fill="#D3D3D3"/>
<circle cx="898.2" cy="1166.9" r="5.5" fill="#D3D3D3"/>
<circle cx="903.7" cy="1174.3" r="5.5" fill="#D3D3D3"/>
<circle cx="901.0" cy="1184.4" r="5.5" fill="#D3D3D3"/>
<circle cx="903.7" cy="1193.6" r="5.5" fill="#D3D3D3"/>
<circle cx="909.3" cy="1204.7" r="5.5" fill="#D3D3D3"/>
<circle cx="905.6" cy="1208.4" r="5.5" fill="#D3D3D3"/>
<circle cx="907.0" cy="1215.0" r="5.5" fill="#D3D3D3"/>
<circle cx="910.0" cy="1230.0" r="5.5" fill="#D3D3D3"/>
<circle cx="1352.3" cy="1164.0" r="5.5" fill="#D3D3D3"/>
<circle cx="1355.9" cy="1150.4" r="5.5" fill="#D3D3D3"/>
<circle cx="1351.3" cy="1149.5" r="5.5" fill="#D3D3D3"/>
<circle cx="1356.8" cy="1136.9" r="5.5" fill="#D3D3D3"/>
<circle cx="1359.5" cy="1119.8" r="5.5" fill="#D3D3D3"/>
<circle cx="1362.2" cy="1096.3" r="5.5" fill="#D3D3D3"/>
<circle cx="1365.8" cy="1069.2" r="5.5" fill="#D3D3D3"/>
<circle cx="1367.6" cy="1055.7" r="5.5" fill="#D3D3D3"/>
<circle cx="1369.8" cy="1036.8" r="5.5" fill="#D3D3D3"/>
<circle cx="1370.8" cy="1025.0" r="5.5" fill="#D3D3D3"/>
<circle cx="1371.6" cy="1019.6" r="5.5" fill="#D3D3D3"/>
<circle cx="1373.0" cy="1009.7" r="5.5" fill="#D3D3D3"/>
<circle cx="1373.4" cy="1002.5" r="5.5" fill="#D3D3D3"/>
<circle cx="1374.8" cy="988.0" r="5.5" fill="#D3D3D3"/>
<circle cx="1378.4" cy="947.4" r="5.5" fill="#D3D3D3"/>
<circle cx="1380.0" cy="940.0" r="5.5" fill="#D3D3D3"/>
<circle cx="1385.6" cy="895.1" r="5.5" fill="#D3D3D3"/>
<circle cx="1398.3" cy="883.7" r="5.5" fill="#D3D3D3"/>
<circle cx="1401.0" cy="883.7" r="5.5" fill="#D3D3D3"/>
<circle cx="1411.8" cy="883.7" r="5.5" fill="#D3D3D3"/>
<circle cx="1349.0" cy="1175.0" r="5.5" fill="#D3D3D3"/>
<circle cx="1347.0" cy="1180.0" r="5.5" fill="#D3D3D3"/>
<circle cx="1373.8" cy="995.0" r="5.5" fill="#D3D3D3"/>
<circle cx="1372.5" cy="1014.0" r="5.5" fill="#D3D3D3"/>
<circle cx="1371.0" cy="1030.0" r="5.5" fill="#D3D3D3"/>
<circle cx="1369.5" cy="1044.0" r="5.5" fill="#D3D3D3"/>
<circle cx="1366.6" cy="1062.0" r="5.5" fill="#D3D3D3"/>
<circle cx="1363.0" cy="1089.0" r="5.5" fill="#D3D3D3"/>
<circle cx="1361.0" cy="1103.0" r="5.5" fill="#D3D3D3"/>
<circle cx="1358.0" cy="1128.0" r="5.5" fill="#D3D3D3"/>
<circle cx="1353.5" cy="1158.0" r="5.5" fill="#D3D3D3"/>
<circle cx="1388.9" cy="883.7" r="5.8" fill="#FF2414"/>
<circle cx="1383.8" cy="904.1" r="5.8" fill="#FF2414"/>
<circle cx="1381.7" cy="923.6" r="5.8" fill="#FF2414"/>
<circle cx="1364.0" cy="1082.8" r="5.8" fill="#FF2414"/>
<circle cx="1360.4" cy="1109.8" r="5.8" fill="#FF2414"/>
<circle cx="1351.0" cy="1175.7" r="5.8" fill="#FF2414"/>
<circle cx="1332.7" cy="1263.5" r="5.8" fill="#FF2414"/>
<circle cx="1328.4" cy="1281.2" r="5.8" fill="#FF2414"/>
<circle cx="1313.8" cy="1337.9" r="5.8" fill="#FF2414"/>
<circle cx="1303.6" cy="1373.0" r="5.8" fill="#FF2414"/>
<circle cx="1264.9" cy="1469.1" r="5.8" fill="#FF2414"/>
<circle cx="1035.8" cy="1543.5" r="5.8" fill="#FF2414"/>
<circle cx="1091.3" cy="1584.4" r="5.8" fill="#FF2414"/>
<circle cx="1185.2" cy="1572.0" r="5.8" fill="#FF2414"/>
<circle cx="862.6" cy="884.0" r="5.8" fill="#2D7020"/>
<circle cx="879.8" cy="1027.2" r="5.8" fill="#2D7020"/>
<circle cx="909.3" cy="1223.5" r="5.8" fill="#2D7020"/>
<line x1="1369.4" y1="1081.5" x2="1383.8" y2="1079.7" stroke="#FF2414" stroke-width="1.5"/>
<line x1="1365.8" y1="1110.4" x2="1390.1" y2="1111.3" stroke="#FF2414" stroke-width="1.5"/>
<line x1="1337.3" y1="1262.3" x2="1354.0" y2="1257.4" stroke="#FF2414" stroke-width="1.5"/>
<line x1="1190.4" y1="1572.4" x2="1203.0" y2="1572.4" stroke="#FF2414" stroke-width="1.5"/>
<text x="1374.2" y="874.4" font-size="22.6" fill="#FF1E10">SLC5A5</text>
<text x="1381.1" y="909.5" font-size="22.6" fill="#FF1E10">DUOX2</text>
<text x="1374.2" y="949.8" font-size="22.6" fill="#FF1E10">SLC5A8</text>
<text x="1386.5" y="1088.2" font-size="22.6" fill="#FF1E10">DIO1</text>
<text x="1393.3" y="1119.8" font-size="22.6" fill="#FF1E10">TG</text>
<text x="1360.4" y="1183.8" font-size="22.6" fill="#FF1E10">DUOX1</text>
<text x="1357.5" y="1265.9" font-size="22.6" fill="#FF1E10">GLIS3</text>
<text x="1341.8" y="1295.7" font-size="22.6" fill="#FF1E10">TPO</text>
<text x="1330.9" y="1346.0" font-size="22.6" fill="#FF1E10">TSHR</text>
<text x="1312.7" y="1381.2" font-size="22.6" fill="#FF1E10">SLC26A4</text>
<text x="1283.2" y="1478.3" font-size="22.6" fill="#FF1E10">PAX8</text>
<text x="1054.0" y="1552.3" font-size="22.6" fill="#FF1E10">THRB</text>
<text x="1108.4" y="1593.6" font-size="22.6" fill="#FF1E10">THRA</text>
<text x="1205.2" y="1581.0" font-size="22.6" fill="#FF1E10">DIO2</text>
<text x="871.3" y="892.6" font-size="22.6" fill="#2D7A1F">CHEK1</text>
<text x="876.5" y="1017.6" font-size="22.6" fill="#2D7A1F">KIT</text>
<text x="856.8" y="1249.5" font-size="22.6" fill="#2D7A1F">PTPRK</text>
<line x1="828.6" y1="849.6" x2="828.6" y2="1628.5" stroke="#000" stroke-width="1.45"/>
<line x1="827.9" y1="1627.8" x2="1465.7" y2="1627.8" stroke="#000" stroke-width="1.45"/>
<line x1="823.1" y1="1606.7" x2="828.6" y2="1606.7" stroke="#000" stroke-width="1.45"/>
<text x="818.7" y="1617.7" font-size="31" text-anchor="end">0</text>
<line x1="823.1" y1="1331.9" x2="828.6" y2="1331.9" stroke="#000" stroke-width="1.45"/>
<text x="819.0" y="1342.9" font-size="31" text-anchor="end">1</text>
<line x1="823.1" y1="1056.6" x2="828.6" y2="1056.6" stroke="#000" stroke-width="1.45"/>
<text x="819.2" y="1067.6" font-size="31" text-anchor="end">2</text>
<line x1="962.4" y1="1627.8" x2="962.4" y2="1633.5" stroke="#000" stroke-width="1.45"/>
<text x="963.7" y="1663.3" font-size="31" text-anchor="end">-0.5</text>
<line x1="1125.2" y1="1627.8" x2="1125.2" y2="1633.5" stroke="#000" stroke-width="1.45"/>
<text x="1126.3" y="1663.3" font-size="31" text-anchor="end">0.0</text>
<line x1="1287.4" y1="1627.8" x2="1287.4" y2="1633.5" stroke="#000" stroke-width="1.45"/>
<text x="1288.6" y="1663.3" font-size="31" text-anchor="end">0.5</text>
<line x1="1449.6" y1="1627.8" x2="1449.6" y2="1633.5" stroke="#000" stroke-width="1.45"/>
<text x="1450.7" y="1663.3" font-size="31" text-anchor="end">1.0</text>
<text x="913.9" y="1695.0" font-size="32.5">Spearman correlation coefficient</text>
<text transform="translate(783.6,1238.0) rotate(-90)" text-anchor="middle" font-size="32.5">Log<tspan dy="6.1" font-size="23.3">10</tspan><tspan dy="-6.1"> FDR</tspan></text>
<text x="1028.3" y="1011.6" font-size="24.5">Selected gene type</text>
<circle cx="1045.5" cy="1043.3" r="5.85" fill="#FF2414"/>
<text x="1074.2" y="1050.4" font-size="20">16 Thyroid genes</text>
<circle cx="1045.5" cy="1078.1" r="5.85" fill="#2D7020"/>
<text x="1075.7" y="1085.2" font-size="20">Anti-correlated genes</text>
</g>
<g id="panelE">
<text x="29.1" y="1778.8" font-size="51.3" font-weight="bold">E</text>
<text x="100.5" y="1844.6" font-size="41.3" font-weight="bold" fill="#4E7592">KIT</text>
<line x1="102.2" y1="1867.0" x2="102.2" y2="2454.7" stroke="#000" stroke-width="1.5"/>
<line x1="101.5" y1="2454.0" x2="729.0" y2="2454.0" stroke="#000" stroke-width="1.5"/>
<line x1="96.5" y1="2427.6" x2="102.2" y2="2427.6" stroke="#000" stroke-width="1.5"/>
<text x="88.4" y="2438.6" font-size="31" text-anchor="end">0</text>
<line x1="96.5" y1="2249.9" x2="102.2" y2="2249.9" stroke="#000" stroke-width="1.5"/>
<text x="88.6" y="2260.9" font-size="31" text-anchor="end">5</text>
<line x1="96.5" y1="2072.2" x2="102.2" y2="2072.2" stroke="#000" stroke-width="1.5"/>
<text x="88.5" y="2083.2" font-size="31" text-anchor="end">10</text>
<line x1="96.5" y1="1894.5" x2="102.2" y2="1894.5" stroke="#000" stroke-width="1.5"/>
<text x="88.6" y="1905.5" font-size="31" text-anchor="end">15</text>
<line x1="272.8" y1="2454.0" x2="272.8" y2="2460.0" stroke="#000" stroke-width="1.5"/>
<text x="273.3" y="2490.0" font-size="31" text-anchor="end">Low TDS</text>
<line x1="557.5" y1="2454.0" x2="557.5" y2="2460.0" stroke="#000" stroke-width="1.5"/>
<text x="557.9" y="2490.0" font-size="31" text-anchor="end">High TDS</text>
<text x="204.3" y="1893.5" font-size="35">Wilcoxon, p = 0.00026</text>
<text transform="translate(36.1,2363.0) rotate(-90)" font-size="32.5">Log<tspan dy="6.1" font-size="23.3">2</tspan><tspan dy="-6.1"> normalized expression</tspan></text>
<line x1="272.8" y1="1954.4" x2="272.8" y2="1982.8" stroke="#8B5D1C" stroke-width="2.4"/>
<rect x="172.00" y="1982.80" width="201.00" height="35.40" fill="none" stroke="#8B5D1C" stroke-width="2.4"/>
<line x1="172.0" y1="2005.2" x2="373.0" y2="2005.2" stroke="#8B5D1C" stroke-width="4.0"/>
<circle cx="272.8" cy="1954.4" r="9.5" fill="#8B5D1C"/>
<circle cx="254.4" cy="1980.3" r="9.5" fill="#8B5D1C"/>
<circle cx="272.8" cy="1980.3" r="9.5" fill="#8B5D1C"/>
<circle cx="290.8" cy="1980.3" r="9.5" fill="#8B5D1C"/>
<circle cx="263.3" cy="1999.7" r="9.5" fill="#8B5D1C"/>
<circle cx="281.8" cy="1999.7" r="9.5" fill="#8B5D1C"/>
<circle cx="227.4" cy="2015.7" r="9.5" fill="#8B5D1C"/>
<circle cx="245.4" cy="2015.7" r="9.5" fill="#8B5D1C"/>
<circle cx="263.3" cy="2015.7" r="9.5" fill="#8B5D1C"/>
<circle cx="281.8" cy="2015.7" r="9.5" fill="#8B5D1C"/>
<circle cx="299.3" cy="2015.7" r="9.5" fill="#8B5D1C"/>
<circle cx="317.2" cy="2015.7" r="9.5" fill="#8B5D1C"/>
<line x1="557.5" y1="2015.2" x2="557.5" y2="2024.2" stroke="#5DBFEA" stroke-width="2.4"/>
<line x1="557.5" y1="2150.3" x2="557.5" y2="2197.2" stroke="#5DBFEA" stroke-width="2.4"/>
<rect x="457.80" y="2024.20" width="200.50" height="126.10" fill="none" stroke="#5DBFEA" stroke-width="2.4"/>
<line x1="457.8" y1="2050.1" x2="658.3" y2="2050.1" stroke="#5DBFEA" stroke-width="4.0"/>
<circle cx="531.2" cy="2015.2" r="9.5" fill="#5DBFEA"/>
<circle cx="548.6" cy="2015.2" r="9.5" fill="#5DBFEA"/>
<circle cx="566.1" cy="2015.2" r="9.5" fill="#5DBFEA"/>
<circle cx="583.5" cy="2015.2" r="9.5" fill="#5DBFEA"/>
<circle cx="522.2" cy="2052.1" r="9.5" fill="#5DBFEA"/>
<circle cx="540.1" cy="2052.1" r="9.5" fill="#5DBFEA"/>
<circle cx="557.6" cy="2052.1" r="9.5" fill="#5DBFEA"/>
<circle cx="575.5" cy="2052.1" r="9.5" fill="#5DBFEA"/>
<circle cx="593.5" cy="2052.1" r="9.5" fill="#5DBFEA"/>
<circle cx="557.5" cy="2150.3" r="9.5" fill="#5DBFEA"/>
<circle cx="548.6" cy="2172.3" r="9.5" fill="#5DBFEA"/>
<circle cx="566.5" cy="2172.3" r="9.5" fill="#5DBFEA"/>
<circle cx="557.5" cy="2197.2" r="9.5" fill="#5DBFEA"/>
</g>
<g id="panelF">
<text x="857.5" y="1779.0" font-size="51.3" font-weight="bold">F</text>
<text x="884.0" y="1845.0" font-size="41.3" font-weight="bold" fill="#4E7592">ADM2</text>
<line x1="884.4" y1="1867.6" x2="884.4" y2="2454.7" stroke="#000" stroke-width="1.5"/>
<line x1="883.7" y1="2454.0" x2="1484.9" y2="2454.0" stroke="#000" stroke-width="1.5"/>
<line x1="878.7" y1="2325.1" x2="884.4" y2="2325.1" stroke="#000" stroke-width="1.5"/>
<text x="873.0" y="2336.1" font-size="31" text-anchor="end">10.0</text>
<line x1="878.7" y1="2180.4" x2="884.4" y2="2180.4" stroke="#000" stroke-width="1.5"/>
<text x="873.2" y="2191.4" font-size="31" text-anchor="end">12.5</text>
<line x1="878.7" y1="2035.8" x2="884.4" y2="2035.8" stroke="#000" stroke-width="1.5"/>
<text x="873.0" y="2046.8" font-size="31" text-anchor="end">15.0</text>
<line x1="878.7" y1="1891.1" x2="884.4" y2="1891.1" stroke="#000" stroke-width="1.5"/>
<text x="873.2" y="1902.1" font-size="31" text-anchor="end">17.5</text>
<line x1="1047.0" y1="2454.0" x2="1047.0" y2="2460.0" stroke="#000" stroke-width="1.5"/>
<text x="1047.5" y="2490.0" font-size="31" text-anchor="end">Low TDS</text>
<line x1="1321.3" y1="2454.0" x2="1321.3" y2="2460.0" stroke="#000" stroke-width="1.5"/>
<text x="1321.7" y="2490.0" font-size="31" text-anchor="end">High TDS</text>
<text x="986.4" y="1901.3" font-size="35">Wilcoxon, p = 1e-04</text>
<text transform="translate(792.8,2362.9) rotate(-90)" font-size="32.5">Log<tspan dy="6.1" font-size="23.3">2</tspan><tspan dy="-6.1"> normalized expression</tspan></text>
<line x1="1047.0" y1="2097.6" x2="1047.0" y2="2167.6" stroke="#8B5D1C" stroke-width="2.4"/>
<line x1="1047.0" y1="2299.4" x2="1047.0" y2="2418.7" stroke="#8B5D1C" stroke-width="2.4"/>
<rect x="951.40" y="2167.60" width="192.20" height="131.80" fill="none" stroke="#8B5D1C" stroke-width="2.4"/>
<line x1="951.4" y1="2214.9" x2="1143.6" y2="2214.9" stroke="#8B5D1C" stroke-width="4.0"/>
<circle cx="1047.0" cy="2097.6" r="9.5" fill="#8B5D1C"/>
<circle cx="1047.0" cy="2124.3" r="9.5" fill="#8B5D1C"/>
<circle cx="1030.4" cy="2170.6" r="9.5" fill="#8B5D1C"/>
<circle cx="1047.0" cy="2170.6" r="9.5" fill="#8B5D1C"/>
<circle cx="1064.6" cy="2170.6" r="9.5" fill="#8B5D1C"/>
<circle cx="1047.0" cy="2200.8" r="9.5" fill="#8B5D1C"/>
<circle cx="1038.4" cy="2230.0" r="9.5" fill="#8B5D1C"/>
<circle cx="1056.0" cy="2230.0" r="9.5" fill="#8B5D1C"/>
<circle cx="1030.4" cy="2307.5" r="9.5" fill="#8B5D1C"/>
<circle cx="1047.0" cy="2307.5" r="9.5" fill="#8B5D1C"/>
<circle cx="1064.6" cy="2307.5" r="9.5" fill="#8B5D1C"/>
<circle cx="1047.0" cy="2418.7" r="9.5" fill="#8B5D1C"/>
<line x1="1321.3" y1="1901.3" x2="1321.3" y2="2010.5" stroke="#5DBFEA" stroke-width="2.4"/>
<line x1="1321.3" y1="2115.2" x2="1321.3" y2="2175.6" stroke="#5DBFEA" stroke-width="2.4"/>
<rect x="1224.70" y="2010.50" width="192.20" height="104.70" fill="none" stroke="#5DBFEA" stroke-width="2.4"/>
<line x1="1224.7" y1="2093.6" x2="1416.9" y2="2093.6" stroke="#5DBFEA" stroke-width="4.0"/>
<circle cx="1321.3" cy="1901.3" r="9.5" fill="#5DBFEA"/>
<circle cx="1321.3" cy="1962.2" r="9.5" fill="#5DBFEA"/>
<circle cx="1312.7" cy="2008.0" r="9.5" fill="#5DBFEA"/>
<circle cx="1329.8" cy="2008.0" r="9.5" fill="#5DBFEA"/>
<circle cx="1321.3" cy="2054.8" r="9.5" fill="#5DBFEA"/>
<circle cx="1312.7" cy="2090.0" r="9.5" fill="#5DBFEA"/>
<circle cx="1329.8" cy="2090.0" r="9.5" fill="#5DBFEA"/>
<circle cx="1303.7" cy="2113.7" r="9.5" fill="#5DBFEA"/>
<circle cx="1321.3" cy="2113.7" r="9.5" fill="#5DBFEA"/>
<circle cx="1338.0" cy="2113.7" r="9.5" fill="#5DBFEA"/>
<circle cx="1312.7" cy="2158.0" r="9.5" fill="#5DBFEA"/>
<circle cx="1329.8" cy="2158.0" r="9.5" fill="#5DBFEA"/>
<circle cx="1321.3" cy="2175.6" r="9.5" fill="#5DBFEA"/>
</g>
</svg>
</body></html>
